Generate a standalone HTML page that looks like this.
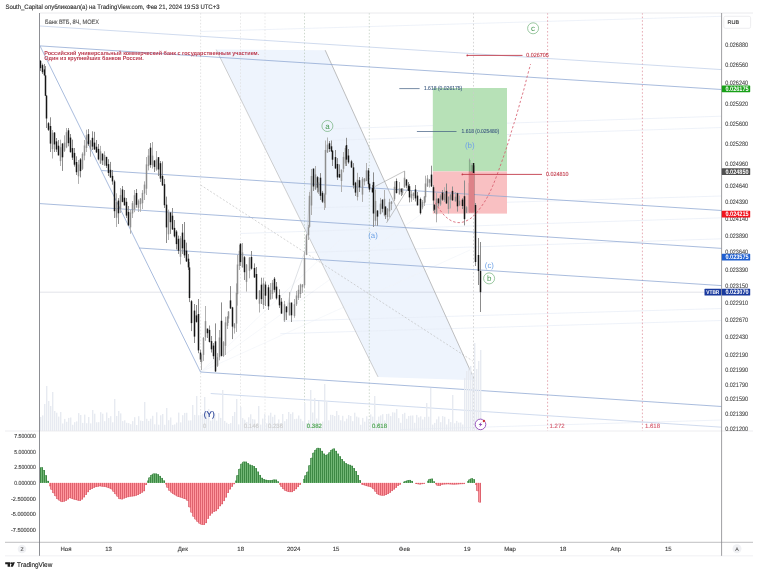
<!DOCTYPE html><html><head><meta charset="utf-8"><title>chart</title><style>html,body{margin:0;padding:0;background:#fff;overflow:hidden}svg{display:block;will-change:transform;filter:blur(0.3px)}</style></head><body><svg width="758" height="574" viewBox="0 0 758 574" text-rendering="geometricPrecision" style="display:block;font-family:'Liberation Sans',sans-serif">
<rect width="758" height="574" fill="#fff"/>
<defs><clipPath id="mp"><rect x="40" y="13" width="681.6" height="418"/></clipPath></defs>
<g clip-path="url(#mp)">
<polygon points="216.2,49.6 325.2,50.2 474.7,380.2 378,376.9" fill="#eef4fd"/>
<line x1="200.5" y1="372.0" x2="420.0" y2="215.0" stroke="#f0f3f9" stroke-width="0.6" />
<line x1="200.5" y1="372.0" x2="470.0" y2="250.0" stroke="#f0f3f9" stroke-width="0.6" />
<line x1="200.5" y1="372.0" x2="340.0" y2="240.0" stroke="#f0f3f9" stroke-width="0.6" />
<line x1="200.0" y1="31.5" x2="721.6" y2="16.3" stroke="#e6ecf7" stroke-width="0.7" />
<line x1="333.0" y1="128.8" x2="721.6" y2="116.2" stroke="#e6ecf7" stroke-width="0.7" />
<line x1="330.0" y1="140.4" x2="721.6" y2="127.5" stroke="#e6ecf7" stroke-width="0.7" />
<line x1="310.0" y1="208.0" x2="721.6" y2="196.0" stroke="#e6ecf7" stroke-width="0.7" />
<line x1="240.5" y1="233.5" x2="721.6" y2="217.8" stroke="#e6ecf7" stroke-width="0.7" />
<line x1="308.0" y1="252.4" x2="721.6" y2="238.8" stroke="#e6ecf7" stroke-width="0.7" />
<line x1="283.0" y1="321.2" x2="721.6" y2="308.5" stroke="#e6ecf7" stroke-width="0.7" />
<line x1="280.4" y1="333.7" x2="721.6" y2="320.5" stroke="#e6ecf7" stroke-width="0.7" />
<line x1="400.0" y1="429.6" x2="721.6" y2="420.0" stroke="#e6ecf7" stroke-width="0.7" />
<rect x="432.8" y="88" width="74.2" height="83.4" fill="#b7e1b7"/>
<rect x="432.8" y="171.4" width="74.2" height="42.2" fill="#f9c0c2"/>
<line x1="40.0" y1="292.2" x2="721.6" y2="292.2" stroke="#8c93a6" stroke-width="0.8" stroke-opacity="0.32"/>
<line x1="200.6" y1="13.0" x2="200.6" y2="431.0" stroke="#d8d8d8" stroke-width="0.7" stroke-dasharray="1.5 1.8"/>
<line x1="240.5" y1="13.0" x2="240.5" y2="431.0" stroke="#dedede" stroke-width="0.7" stroke-dasharray="1.5 1.8"/>
<line x1="265.0" y1="13.0" x2="265.0" y2="431.0" stroke="#dedede" stroke-width="0.7" stroke-dasharray="1.5 1.8"/>
<line x1="304.5" y1="13.0" x2="304.5" y2="431.0" stroke="#b9c9b9" stroke-width="0.7" stroke-dasharray="1.5 1.8"/>
<line x1="369.3" y1="13.0" x2="369.3" y2="431.0" stroke="#b9c9b9" stroke-width="0.7" stroke-dasharray="1.5 1.8"/>
<line x1="473.5" y1="13.0" x2="473.5" y2="431.0" stroke="#cbcbcb" stroke-width="0.8" stroke-dasharray="1.6 2"/>
<line x1="547.6" y1="13.0" x2="547.6" y2="431.0" stroke="#de8f9b" stroke-width="0.75" stroke-dasharray="1.6 2"/>
<line x1="642.4" y1="13.0" x2="642.4" y2="431.0" stroke="#de8f9b" stroke-width="0.75" stroke-dasharray="1.6 2"/>
<line x1="200.6" y1="185.0" x2="472.8" y2="361.0" stroke="#b8b8b8" stroke-width="0.6" stroke-dasharray="2 1.8"/>
<line x1="216.2" y1="49.6" x2="378.0" y2="376.9" stroke="#b0b0b0" stroke-width="0.6" />
<line x1="325.2" y1="50.2" x2="474.7" y2="380.2" stroke="#a4a4a4" stroke-width="0.7" />
<line x1="40.0" y1="26.0" x2="721.6" y2="69.6" stroke="#bccbe6" stroke-width="0.7" />
<line x1="40.0" y1="45.9" x2="721.6" y2="89.5" stroke="#8ca6d2" stroke-width="0.75" />
<line x1="40.0" y1="45.9" x2="200.5" y2="372.0" stroke="#8ca6d2" stroke-width="0.75" />
<line x1="101.5" y1="170.5" x2="721.6" y2="210.5" stroke="#8ca6d2" stroke-width="0.75" />
<line x1="40.0" y1="203.6" x2="721.6" y2="248.4" stroke="#8ca6d2" stroke-width="0.75" />
<line x1="139.0" y1="248.0" x2="721.6" y2="285.6" stroke="#8ca6d2" stroke-width="0.75" />
<line x1="200.5" y1="372.0" x2="721.6" y2="406.5" stroke="#8ca6d2" stroke-width="0.75" />
<line x1="210.7" y1="393.5" x2="721.6" y2="427.2" stroke="#bccbe6" stroke-width="0.7" />
<line x1="375.0" y1="186.5" x2="404.7" y2="171.0" stroke="#a0a0a0" stroke-width="0.6" />
<line x1="386.4" y1="223.0" x2="407.7" y2="189.0" stroke="#a0a0a0" stroke-width="0.6" />
<line x1="404.7" y1="171.0" x2="404.7" y2="186.0" stroke="#a0a0a0" stroke-width="0.6" />
<line x1="290.4" y1="292.7" x2="305.5" y2="250.0" stroke="#c8ccd4" stroke-width="0.6" />
<line x1="305.5" y1="250.0" x2="310.0" y2="190.0" stroke="#c8ccd4" stroke-width="0.6" />
<line x1="284.0" y1="321.0" x2="290.4" y2="292.7" stroke="#c8ccd4" stroke-width="0.6" />
<rect x="40" y="416.9" width="1.4" height="14.1" fill="#e7eaf1"/>
<rect x="42" y="415.4" width="1.4" height="15.6" fill="#e7eaf1"/>
<rect x="44" y="404.0" width="1.4" height="27.0" fill="#e7eaf1"/>
<rect x="46" y="386.0" width="1.4" height="45.0" fill="#e7eaf1"/>
<rect x="48" y="401.0" width="1.4" height="30.0" fill="#e7eaf1"/>
<rect x="50" y="406.0" width="1.4" height="25.0" fill="#e7eaf1"/>
<rect x="52" y="392.0" width="1.4" height="39.0" fill="#e7eaf1"/>
<rect x="54" y="411.0" width="1.4" height="20.0" fill="#e7eaf1"/>
<rect x="56" y="412.7" width="1.4" height="18.3" fill="#e7eaf1"/>
<rect x="58" y="416.6" width="1.4" height="14.4" fill="#e7eaf1"/>
<rect x="60" y="412.0" width="1.4" height="19.0" fill="#e7eaf1"/>
<rect x="62" y="423.5" width="1.4" height="7.5" fill="#e7eaf1"/>
<rect x="64" y="418.9" width="1.4" height="12.1" fill="#e7eaf1"/>
<rect x="66" y="421.8" width="1.4" height="9.2" fill="#e7eaf1"/>
<rect x="68" y="417.9" width="1.4" height="13.1" fill="#e7eaf1"/>
<rect x="70" y="417.5" width="1.4" height="13.5" fill="#e7eaf1"/>
<rect x="72" y="424.8" width="1.4" height="6.2" fill="#e7eaf1"/>
<rect x="74" y="422.2" width="1.4" height="8.8" fill="#e7eaf1"/>
<rect x="76" y="421.4" width="1.4" height="9.6" fill="#e7eaf1"/>
<rect x="78" y="413.1" width="1.4" height="17.9" fill="#e7eaf1"/>
<rect x="80" y="415.0" width="1.4" height="16.0" fill="#e7eaf1"/>
<rect x="82" y="422.9" width="1.4" height="8.1" fill="#e7eaf1"/>
<rect x="84" y="414.6" width="1.4" height="16.4" fill="#e7eaf1"/>
<rect x="86" y="423.2" width="1.4" height="7.8" fill="#e7eaf1"/>
<rect x="88" y="417.0" width="1.4" height="14.0" fill="#e7eaf1"/>
<rect x="90" y="423.4" width="1.4" height="7.6" fill="#e7eaf1"/>
<rect x="92" y="410.0" width="1.4" height="21.0" fill="#e7eaf1"/>
<rect x="94" y="413.7" width="1.4" height="17.3" fill="#e7eaf1"/>
<rect x="96" y="422.3" width="1.4" height="8.7" fill="#e7eaf1"/>
<rect x="98" y="422.2" width="1.4" height="8.8" fill="#e7eaf1"/>
<rect x="100" y="412.2" width="1.4" height="18.8" fill="#e7eaf1"/>
<rect x="102" y="413.7" width="1.4" height="17.3" fill="#e7eaf1"/>
<rect x="104" y="421.2" width="1.4" height="9.8" fill="#e7eaf1"/>
<rect x="106" y="412.5" width="1.4" height="18.5" fill="#e7eaf1"/>
<rect x="108" y="418.0" width="1.4" height="13.0" fill="#e7eaf1"/>
<rect x="110" y="416.2" width="1.4" height="14.8" fill="#e7eaf1"/>
<rect x="112" y="422.3" width="1.4" height="8.7" fill="#e7eaf1"/>
<rect x="114" y="399.0" width="1.4" height="32.0" fill="#e7eaf1"/>
<rect x="116" y="416.0" width="1.4" height="15.0" fill="#e7eaf1"/>
<rect x="118" y="411.0" width="1.4" height="20.0" fill="#e7eaf1"/>
<rect x="120" y="413.4" width="1.4" height="17.6" fill="#e7eaf1"/>
<rect x="122" y="421.1" width="1.4" height="9.9" fill="#e7eaf1"/>
<rect x="124" y="420.3" width="1.4" height="10.7" fill="#e7eaf1"/>
<rect x="126" y="422.8" width="1.4" height="8.2" fill="#e7eaf1"/>
<rect x="128" y="423.1" width="1.4" height="7.9" fill="#e7eaf1"/>
<rect x="130" y="424.2" width="1.4" height="6.8" fill="#e7eaf1"/>
<rect x="132" y="421.1" width="1.4" height="9.9" fill="#e7eaf1"/>
<rect x="134" y="417.2" width="1.4" height="13.8" fill="#e7eaf1"/>
<rect x="136" y="425.0" width="1.4" height="6.0" fill="#e7eaf1"/>
<rect x="138" y="416.2" width="1.4" height="14.8" fill="#e7eaf1"/>
<rect x="140" y="420.6" width="1.4" height="10.4" fill="#e7eaf1"/>
<rect x="142" y="421.0" width="1.4" height="10.0" fill="#e7eaf1"/>
<rect x="144" y="402.0" width="1.4" height="29.0" fill="#e7eaf1"/>
<rect x="146" y="418.8" width="1.4" height="12.2" fill="#e7eaf1"/>
<rect x="148" y="420.9" width="1.4" height="10.1" fill="#e7eaf1"/>
<rect x="150" y="418.7" width="1.4" height="12.3" fill="#e7eaf1"/>
<rect x="152" y="415.8" width="1.4" height="15.2" fill="#e7eaf1"/>
<rect x="154" y="424.3" width="1.4" height="6.7" fill="#e7eaf1"/>
<rect x="156" y="412.3" width="1.4" height="18.7" fill="#e7eaf1"/>
<rect x="158" y="424.7" width="1.4" height="6.3" fill="#e7eaf1"/>
<rect x="160" y="415.3" width="1.4" height="15.7" fill="#e7eaf1"/>
<rect x="162" y="414.0" width="1.4" height="17.0" fill="#e7eaf1"/>
<rect x="164" y="424.8" width="1.4" height="6.2" fill="#e7eaf1"/>
<rect x="166" y="408.0" width="1.4" height="23.0" fill="#e7eaf1"/>
<rect x="168" y="420.2" width="1.4" height="10.8" fill="#e7eaf1"/>
<rect x="170" y="417.5" width="1.4" height="13.5" fill="#e7eaf1"/>
<rect x="172" y="424.9" width="1.4" height="6.1" fill="#e7eaf1"/>
<rect x="174" y="424.4" width="1.4" height="6.6" fill="#e7eaf1"/>
<rect x="176" y="422.6" width="1.4" height="8.4" fill="#e7eaf1"/>
<rect x="178" y="412.6" width="1.4" height="18.4" fill="#e7eaf1"/>
<rect x="180" y="422.4" width="1.4" height="8.6" fill="#e7eaf1"/>
<rect x="182" y="415.2" width="1.4" height="15.8" fill="#e7eaf1"/>
<rect x="184" y="412.9" width="1.4" height="18.1" fill="#e7eaf1"/>
<rect x="186" y="412.8" width="1.4" height="18.2" fill="#e7eaf1"/>
<rect x="188" y="420.5" width="1.4" height="10.5" fill="#e7eaf1"/>
<rect x="190" y="420.4" width="1.4" height="10.6" fill="#e7eaf1"/>
<rect x="192" y="405.0" width="1.4" height="26.0" fill="#e7eaf1"/>
<rect x="194" y="414.9" width="1.4" height="16.1" fill="#e7eaf1"/>
<rect x="196" y="396.0" width="1.4" height="35.0" fill="#e7eaf1"/>
<rect x="198" y="415.3" width="1.4" height="15.7" fill="#e7eaf1"/>
<rect x="200" y="414.6" width="1.4" height="16.4" fill="#e7eaf1"/>
<rect x="202" y="413.8" width="1.4" height="17.2" fill="#e7eaf1"/>
<rect x="204" y="397.0" width="1.4" height="34.0" fill="#e7eaf1"/>
<rect x="206" y="412.7" width="1.4" height="18.3" fill="#e7eaf1"/>
<rect x="208" y="409.0" width="1.4" height="22.0" fill="#e7eaf1"/>
<rect x="210" y="420.6" width="1.4" height="10.4" fill="#e7eaf1"/>
<rect x="212" y="417.1" width="1.4" height="13.9" fill="#e7eaf1"/>
<rect x="214" y="413.1" width="1.4" height="17.9" fill="#e7eaf1"/>
<rect x="216" y="420.6" width="1.4" height="10.4" fill="#e7eaf1"/>
<rect x="218" y="413.0" width="1.4" height="18.0" fill="#e7eaf1"/>
<rect x="220" y="417.9" width="1.4" height="13.1" fill="#e7eaf1"/>
<rect x="222" y="390.0" width="1.4" height="41.0" fill="#e7eaf1"/>
<rect x="224" y="420.9" width="1.4" height="10.1" fill="#e7eaf1"/>
<rect x="226" y="422.7" width="1.4" height="8.3" fill="#e7eaf1"/>
<rect x="228" y="424.0" width="1.4" height="7.0" fill="#e7eaf1"/>
<rect x="230" y="423.1" width="1.4" height="7.9" fill="#e7eaf1"/>
<rect x="232" y="416.0" width="1.4" height="15.0" fill="#e7eaf1"/>
<rect x="234" y="412.0" width="1.4" height="19.0" fill="#e7eaf1"/>
<rect x="236" y="399.0" width="1.4" height="32.0" fill="#e7eaf1"/>
<rect x="238" y="424.4" width="1.4" height="6.6" fill="#e7eaf1"/>
<rect x="240" y="407.0" width="1.4" height="24.0" fill="#e7eaf1"/>
<rect x="242" y="418.1" width="1.4" height="12.9" fill="#e7eaf1"/>
<rect x="244" y="419.7" width="1.4" height="11.3" fill="#e7eaf1"/>
<rect x="246" y="421.9" width="1.4" height="9.1" fill="#e7eaf1"/>
<rect x="248" y="417.3" width="1.4" height="13.7" fill="#e7eaf1"/>
<rect x="250" y="414.3" width="1.4" height="16.7" fill="#e7eaf1"/>
<rect x="252" y="419.1" width="1.4" height="11.9" fill="#e7eaf1"/>
<rect x="254" y="419.5" width="1.4" height="11.5" fill="#e7eaf1"/>
<rect x="256" y="424.3" width="1.4" height="6.7" fill="#e7eaf1"/>
<rect x="258" y="406.0" width="1.4" height="25.0" fill="#e7eaf1"/>
<rect x="260" y="424.6" width="1.4" height="6.4" fill="#e7eaf1"/>
<rect x="262" y="418.6" width="1.4" height="12.4" fill="#e7eaf1"/>
<rect x="264" y="414.1" width="1.4" height="16.9" fill="#e7eaf1"/>
<rect x="266" y="423.3" width="1.4" height="7.7" fill="#e7eaf1"/>
<rect x="268" y="415.5" width="1.4" height="15.5" fill="#e7eaf1"/>
<rect x="270" y="412.7" width="1.4" height="18.3" fill="#e7eaf1"/>
<rect x="272" y="416.8" width="1.4" height="14.2" fill="#e7eaf1"/>
<rect x="274" y="414.8" width="1.4" height="16.2" fill="#e7eaf1"/>
<rect x="276" y="423.6" width="1.4" height="7.4" fill="#e7eaf1"/>
<rect x="278" y="419.4" width="1.4" height="11.6" fill="#e7eaf1"/>
<rect x="280" y="423.1" width="1.4" height="7.9" fill="#e7eaf1"/>
<rect x="282" y="414.0" width="1.4" height="17.0" fill="#e7eaf1"/>
<rect x="284" y="421.2" width="1.4" height="9.8" fill="#e7eaf1"/>
<rect x="286" y="419.1" width="1.4" height="11.9" fill="#e7eaf1"/>
<rect x="288" y="412.0" width="1.4" height="19.0" fill="#e7eaf1"/>
<rect x="290" y="413.9" width="1.4" height="17.1" fill="#e7eaf1"/>
<rect x="292" y="412.3" width="1.4" height="18.7" fill="#e7eaf1"/>
<rect x="294" y="419.1" width="1.4" height="11.9" fill="#e7eaf1"/>
<rect x="296" y="418.7" width="1.4" height="12.3" fill="#e7eaf1"/>
<rect x="298" y="415.5" width="1.4" height="15.5" fill="#e7eaf1"/>
<rect x="300" y="418.8" width="1.4" height="12.2" fill="#e7eaf1"/>
<rect x="302" y="421.2" width="1.4" height="9.8" fill="#e7eaf1"/>
<rect x="304" y="403.0" width="1.4" height="28.0" fill="#e7eaf1"/>
<rect x="306" y="423.1" width="1.4" height="7.9" fill="#e7eaf1"/>
<rect x="308" y="420.1" width="1.4" height="10.9" fill="#e7eaf1"/>
<rect x="310" y="390.0" width="1.4" height="41.0" fill="#e7eaf1"/>
<rect x="312" y="412.5" width="1.4" height="18.5" fill="#e7eaf1"/>
<rect x="314" y="398.0" width="1.4" height="33.0" fill="#e7eaf1"/>
<rect x="316" y="418.5" width="1.4" height="12.5" fill="#e7eaf1"/>
<rect x="318" y="401.0" width="1.4" height="30.0" fill="#e7eaf1"/>
<rect x="320" y="423.8" width="1.4" height="7.2" fill="#e7eaf1"/>
<rect x="322" y="421.5" width="1.4" height="9.5" fill="#e7eaf1"/>
<rect x="324" y="384.0" width="1.4" height="47.0" fill="#e7eaf1"/>
<rect x="326" y="401.0" width="1.4" height="30.0" fill="#e7eaf1"/>
<rect x="328" y="420.3" width="1.4" height="10.7" fill="#e7eaf1"/>
<rect x="330" y="414.8" width="1.4" height="16.2" fill="#e7eaf1"/>
<rect x="332" y="414.9" width="1.4" height="16.1" fill="#e7eaf1"/>
<rect x="334" y="416.0" width="1.4" height="15.0" fill="#e7eaf1"/>
<rect x="336" y="411.0" width="1.4" height="20.0" fill="#e7eaf1"/>
<rect x="338" y="415.1" width="1.4" height="15.9" fill="#e7eaf1"/>
<rect x="340" y="420.3" width="1.4" height="10.7" fill="#e7eaf1"/>
<rect x="342" y="415.8" width="1.4" height="15.2" fill="#e7eaf1"/>
<rect x="344" y="421.3" width="1.4" height="9.7" fill="#e7eaf1"/>
<rect x="346" y="418.7" width="1.4" height="12.3" fill="#e7eaf1"/>
<rect x="348" y="415.0" width="1.4" height="16.0" fill="#e7eaf1"/>
<rect x="350" y="416.0" width="1.4" height="15.0" fill="#e7eaf1"/>
<rect x="352" y="421.2" width="1.4" height="9.8" fill="#e7eaf1"/>
<rect x="354" y="412.7" width="1.4" height="18.3" fill="#e7eaf1"/>
<rect x="356" y="416.6" width="1.4" height="14.4" fill="#e7eaf1"/>
<rect x="358" y="417.5" width="1.4" height="13.5" fill="#e7eaf1"/>
<rect x="360" y="424.8" width="1.4" height="6.2" fill="#e7eaf1"/>
<rect x="362" y="417.9" width="1.4" height="13.1" fill="#e7eaf1"/>
<rect x="364" y="421.7" width="1.4" height="9.3" fill="#e7eaf1"/>
<rect x="366" y="416.3" width="1.4" height="14.7" fill="#e7eaf1"/>
<rect x="368" y="419.0" width="1.4" height="12.0" fill="#e7eaf1"/>
<rect x="370" y="414.4" width="1.4" height="16.6" fill="#e7eaf1"/>
<rect x="372" y="416.6" width="1.4" height="14.4" fill="#e7eaf1"/>
<rect x="374" y="396.0" width="1.4" height="35.0" fill="#e7eaf1"/>
<rect x="376" y="420.5" width="1.4" height="10.5" fill="#e7eaf1"/>
<rect x="378" y="416.6" width="1.4" height="14.4" fill="#e7eaf1"/>
<rect x="380" y="415.4" width="1.4" height="15.6" fill="#e7eaf1"/>
<rect x="382" y="414.2" width="1.4" height="16.8" fill="#e7eaf1"/>
<rect x="384" y="420.4" width="1.4" height="10.6" fill="#e7eaf1"/>
<rect x="386" y="414.0" width="1.4" height="17.0" fill="#e7eaf1"/>
<rect x="388" y="413.7" width="1.4" height="17.3" fill="#e7eaf1"/>
<rect x="390" y="416.1" width="1.4" height="14.9" fill="#e7eaf1"/>
<rect x="392" y="412.3" width="1.4" height="18.7" fill="#e7eaf1"/>
<rect x="394" y="412.6" width="1.4" height="18.4" fill="#e7eaf1"/>
<rect x="396" y="409.0" width="1.4" height="22.0" fill="#e7eaf1"/>
<rect x="398" y="418.1" width="1.4" height="12.9" fill="#e7eaf1"/>
<rect x="400" y="422.8" width="1.4" height="8.2" fill="#e7eaf1"/>
<rect x="402" y="414.1" width="1.4" height="16.9" fill="#e7eaf1"/>
<rect x="404" y="412.8" width="1.4" height="18.2" fill="#e7eaf1"/>
<rect x="406" y="418.8" width="1.4" height="12.2" fill="#e7eaf1"/>
<rect x="408" y="416.0" width="1.4" height="15.0" fill="#e7eaf1"/>
<rect x="410" y="415.6" width="1.4" height="15.4" fill="#e7eaf1"/>
<rect x="412" y="415.5" width="1.4" height="15.5" fill="#e7eaf1"/>
<rect x="414" y="422.8" width="1.4" height="8.2" fill="#e7eaf1"/>
<rect x="416" y="414.9" width="1.4" height="16.1" fill="#e7eaf1"/>
<rect x="418" y="417.4" width="1.4" height="13.6" fill="#e7eaf1"/>
<rect x="420" y="416.3" width="1.4" height="14.7" fill="#e7eaf1"/>
<rect x="422" y="419.5" width="1.4" height="11.5" fill="#e7eaf1"/>
<rect x="424" y="416.9" width="1.4" height="14.1" fill="#e7eaf1"/>
<rect x="426" y="403.0" width="1.4" height="28.0" fill="#e7eaf1"/>
<rect x="428" y="416.7" width="1.4" height="14.3" fill="#e7eaf1"/>
<rect x="430" y="388.0" width="1.4" height="43.0" fill="#e7eaf1"/>
<rect x="432" y="424.6" width="1.4" height="6.4" fill="#e7eaf1"/>
<rect x="434" y="422.9" width="1.4" height="8.1" fill="#e7eaf1"/>
<rect x="436" y="419.3" width="1.4" height="11.7" fill="#e7eaf1"/>
<rect x="438" y="416.5" width="1.4" height="14.5" fill="#e7eaf1"/>
<rect x="440" y="422.2" width="1.4" height="8.8" fill="#e7eaf1"/>
<rect x="442" y="416.1" width="1.4" height="14.9" fill="#e7eaf1"/>
<rect x="444" y="416.8" width="1.4" height="14.2" fill="#e7eaf1"/>
<rect x="446" y="424.5" width="1.4" height="6.5" fill="#e7eaf1"/>
<rect x="448" y="418.9" width="1.4" height="12.1" fill="#e7eaf1"/>
<rect x="450" y="422.1" width="1.4" height="8.9" fill="#e7eaf1"/>
<rect x="452" y="395.0" width="1.4" height="36.0" fill="#e7eaf1"/>
<rect x="454" y="423.3" width="1.4" height="7.7" fill="#e7eaf1"/>
<rect x="456" y="420.9" width="1.4" height="10.1" fill="#e7eaf1"/>
<rect x="458" y="422.6" width="1.4" height="8.4" fill="#e7eaf1"/>
<rect x="460" y="422.5" width="1.4" height="8.5" fill="#e7eaf1"/>
<rect x="462" y="424.5" width="1.4" height="6.5" fill="#e7eaf1"/>
<rect x="464" y="378.0" width="1.4" height="53.0" fill="#e7eaf1"/>
<rect x="466" y="371.0" width="1.4" height="60.0" fill="#e7eaf1"/>
<rect x="468" y="368.0" width="1.4" height="63.0" fill="#e7eaf1"/>
<rect x="470" y="366.0" width="1.4" height="65.0" fill="#e7eaf1"/>
<rect x="472" y="373.0" width="1.4" height="58.0" fill="#e7eaf1"/>
<rect x="474" y="343.0" width="1.4" height="88.0" fill="#e7eaf1"/>
<rect x="476" y="369.0" width="1.4" height="62.0" fill="#e7eaf1"/>
<rect x="478" y="361.0" width="1.4" height="70.0" fill="#e7eaf1"/>
<rect x="480" y="350.0" width="1.4" height="81.0" fill="#e7eaf1"/>
<rect x="40.0" y="60.0" width="1" height="11.0" fill="#8c8c8c"/>
<rect x="39.75" y="60.9" width="1.5" height="7.2" fill="#161616"/>
<rect x="42.0" y="63.6" width="1" height="10.4" fill="#8c8c8c"/>
<rect x="41.75" y="65.1" width="1.5" height="7.1" fill="#161616"/>
<rect x="44.0" y="64.0" width="1" height="11.7" fill="#8c8c8c"/>
<rect x="43.75" y="69.4" width="1.5" height="6.0" fill="#161616"/>
<rect x="45.0" y="66.0" width="1" height="29.8" fill="#8c8c8c"/>
<rect x="44.75" y="75.4" width="1.5" height="20.4" fill="#161616"/>
<rect x="46.0" y="95.0" width="1" height="33.0" fill="#8c8c8c"/>
<rect x="45.75" y="95.6" width="1.5" height="22.9" fill="#161616"/>
<rect x="48.0" y="122.0" width="1" height="9.0" fill="#8c8c8c"/>
<rect x="47.75" y="123.2" width="1.5" height="6.6" fill="#161616"/>
<rect x="50.0" y="117.3" width="1" height="34.7" fill="#8c8c8c"/>
<rect x="49.75" y="126.0" width="1.5" height="17.6" fill="#161616"/>
<rect x="52.0" y="130.0" width="1" height="28.5" fill="#b0b0b0"/>
<rect x="51.75" y="132.7" width="1.5" height="16.4" fill="#8e8e8e"/>
<rect x="54.0" y="132.0" width="1" height="20.0" fill="#8c8c8c"/>
<rect x="53.75" y="132.6" width="1.5" height="11.8" fill="#161616"/>
<rect x="56.0" y="138.0" width="1" height="14.0" fill="#8c8c8c"/>
<rect x="55.75" y="141.4" width="1.5" height="8.1" fill="#161616"/>
<rect x="58.0" y="140.0" width="1" height="15.4" fill="#8c8c8c"/>
<rect x="57.75" y="145.7" width="1.5" height="9.7" fill="#161616"/>
<rect x="60.0" y="139.7" width="1" height="26.3" fill="#b0b0b0"/>
<rect x="59.75" y="147.2" width="1.5" height="13.9" fill="#8e8e8e"/>
<rect x="62.0" y="143.0" width="1" height="27.9" fill="#8c8c8c"/>
<rect x="61.75" y="143.6" width="1.5" height="13.7" fill="#161616"/>
<rect x="64.0" y="135.3" width="1" height="16.7" fill="#b0b0b0"/>
<rect x="63.75" y="142.6" width="1.5" height="8.2" fill="#8e8e8e"/>
<rect x="66.0" y="128.0" width="1" height="20.2" fill="#b0b0b0"/>
<rect x="65.75" y="132.2" width="1.5" height="15.2" fill="#8e8e8e"/>
<rect x="68.0" y="128.0" width="1" height="18.3" fill="#8c8c8c"/>
<rect x="67.75" y="130.3" width="1.5" height="12.9" fill="#161616"/>
<rect x="70.0" y="134.0" width="1" height="18.6" fill="#8c8c8c"/>
<rect x="69.75" y="137.6" width="1.5" height="14.6" fill="#161616"/>
<rect x="72.0" y="139.6" width="1" height="20.4" fill="#8c8c8c"/>
<rect x="71.75" y="148.1" width="1.5" height="9.5" fill="#161616"/>
<rect x="74.0" y="148.0" width="1" height="18.6" fill="#8c8c8c"/>
<rect x="73.75" y="152.9" width="1.5" height="11.8" fill="#161616"/>
<rect x="76.0" y="156.3" width="1" height="18.7" fill="#8c8c8c"/>
<rect x="75.75" y="162.0" width="1.5" height="10.2" fill="#161616"/>
<rect x="78.0" y="160.0" width="1" height="23.9" fill="#b0b0b0"/>
<rect x="77.75" y="164.5" width="1.5" height="11.8" fill="#8e8e8e"/>
<rect x="80.0" y="158.0" width="1" height="19.4" fill="#8c8c8c"/>
<rect x="79.75" y="159.4" width="1.5" height="11.7" fill="#161616"/>
<rect x="82.0" y="152.3" width="1" height="17.7" fill="#b0b0b0"/>
<rect x="81.75" y="153.8" width="1.5" height="15.0" fill="#8e8e8e"/>
<rect x="84.0" y="140.0" width="1" height="20.3" fill="#b0b0b0"/>
<rect x="83.75" y="145.5" width="1.5" height="10.1" fill="#8e8e8e"/>
<rect x="86.0" y="129.7" width="1" height="22.3" fill="#b0b0b0"/>
<rect x="85.75" y="135.2" width="1.5" height="12.8" fill="#8e8e8e"/>
<rect x="88.0" y="129.1" width="1" height="16.9" fill="#8c8c8c"/>
<rect x="87.75" y="134.1" width="1.5" height="10.2" fill="#161616"/>
<rect x="90.0" y="140.0" width="1" height="16.7" fill="#b0b0b0"/>
<rect x="89.75" y="140.6" width="1.5" height="8.9" fill="#8e8e8e"/>
<rect x="92.0" y="131.3" width="1" height="18.7" fill="#8c8c8c"/>
<rect x="91.75" y="137.8" width="1.5" height="8.8" fill="#161616"/>
<rect x="94.0" y="131.8" width="1" height="18.2" fill="#8c8c8c"/>
<rect x="93.75" y="142.6" width="1.5" height="6.8" fill="#161616"/>
<rect x="96.0" y="140.0" width="1" height="13.0" fill="#8c8c8c"/>
<rect x="95.75" y="146.7" width="1.5" height="5.7" fill="#161616"/>
<rect x="98.0" y="144.0" width="1" height="16.3" fill="#8c8c8c"/>
<rect x="97.75" y="148.9" width="1.5" height="10.5" fill="#161616"/>
<rect x="100.0" y="145.9" width="1" height="18.1" fill="#b0b0b0"/>
<rect x="99.75" y="151.3" width="1.5" height="12.1" fill="#8e8e8e"/>
<rect x="102.0" y="153.6" width="1" height="11.4" fill="#8c8c8c"/>
<rect x="101.75" y="153.6" width="1.5" height="6.9" fill="#161616"/>
<rect x="104.0" y="151.3" width="1" height="14.7" fill="#b0b0b0"/>
<rect x="103.75" y="155.0" width="1.5" height="9.8" fill="#8e8e8e"/>
<rect x="106.0" y="156.8" width="1" height="11.2" fill="#8c8c8c"/>
<rect x="105.75" y="156.9" width="1.5" height="8.9" fill="#161616"/>
<rect x="108.0" y="159.2" width="1" height="16.8" fill="#8c8c8c"/>
<rect x="107.75" y="164.1" width="1.5" height="8.9" fill="#161616"/>
<rect x="110.0" y="161.9" width="1" height="16.1" fill="#8c8c8c"/>
<rect x="109.75" y="169.8" width="1.5" height="7.6" fill="#161616"/>
<rect x="112.0" y="170.0" width="1" height="14.7" fill="#8c8c8c"/>
<rect x="111.75" y="175.9" width="1.5" height="5.5" fill="#161616"/>
<rect x="114.0" y="179.8" width="1" height="38.2" fill="#8c8c8c"/>
<rect x="113.75" y="181.4" width="1.5" height="29.8" fill="#161616"/>
<rect x="116.0" y="193.3" width="1" height="33.7" fill="#b0b0b0"/>
<rect x="115.75" y="201.9" width="1.5" height="15.8" fill="#8e8e8e"/>
<rect x="118.0" y="198.1" width="1" height="25.9" fill="#8c8c8c"/>
<rect x="117.75" y="200.6" width="1.5" height="12.7" fill="#161616"/>
<rect x="120.0" y="188.0" width="1" height="25.0" fill="#b0b0b0"/>
<rect x="119.75" y="195.1" width="1.5" height="14.3" fill="#8e8e8e"/>
<rect x="122.0" y="186.0" width="1" height="16.3" fill="#8c8c8c"/>
<rect x="121.75" y="189.5" width="1.5" height="12.4" fill="#161616"/>
<rect x="124.0" y="190.0" width="1" height="15.4" fill="#8c8c8c"/>
<rect x="123.75" y="197.7" width="1.5" height="7.7" fill="#161616"/>
<rect x="126.0" y="198.0" width="1" height="20.0" fill="#8c8c8c"/>
<rect x="125.75" y="201.8" width="1.5" height="13.8" fill="#161616"/>
<rect x="128.0" y="206.0" width="1" height="19.4" fill="#8c8c8c"/>
<rect x="127.75" y="211.9" width="1.5" height="13.6" fill="#161616"/>
<rect x="130.0" y="210.0" width="1" height="23.7" fill="#b0b0b0"/>
<rect x="129.75" y="212.5" width="1.5" height="14.8" fill="#8e8e8e"/>
<rect x="132.0" y="201.0" width="1" height="17.0" fill="#b0b0b0"/>
<rect x="131.75" y="203.1" width="1.5" height="10.4" fill="#8e8e8e"/>
<rect x="134.0" y="190.0" width="1" height="22.2" fill="#b0b0b0"/>
<rect x="133.75" y="195.3" width="1.5" height="14.1" fill="#8e8e8e"/>
<rect x="136.0" y="189.0" width="1" height="18.7" fill="#8c8c8c"/>
<rect x="135.75" y="193.0" width="1.5" height="11.8" fill="#161616"/>
<rect x="138.0" y="199.4" width="1" height="12.6" fill="#b0b0b0"/>
<rect x="137.75" y="200.7" width="1.5" height="7.1" fill="#8e8e8e"/>
<rect x="140.0" y="198.0" width="1" height="13.8" fill="#b0b0b0"/>
<rect x="139.75" y="198.6" width="1.5" height="5.6" fill="#8e8e8e"/>
<rect x="142.0" y="190.1" width="1" height="18.9" fill="#b0b0b0"/>
<rect x="141.75" y="192.9" width="1.5" height="10.3" fill="#8e8e8e"/>
<rect x="144.0" y="181.3" width="1" height="18.7" fill="#b0b0b0"/>
<rect x="143.75" y="184.6" width="1.5" height="8.9" fill="#8e8e8e"/>
<rect x="146.0" y="157.0" width="1" height="38.0" fill="#b0b0b0"/>
<rect x="145.75" y="164.4" width="1.5" height="24.3" fill="#8e8e8e"/>
<rect x="148.0" y="149.0" width="1" height="21.4" fill="#b0b0b0"/>
<rect x="147.75" y="155.5" width="1.5" height="10.6" fill="#8e8e8e"/>
<rect x="150.0" y="143.0" width="1" height="24.7" fill="#8c8c8c"/>
<rect x="149.75" y="147.7" width="1.5" height="17.2" fill="#161616"/>
<rect x="152.0" y="142.0" width="1" height="26.5" fill="#b0b0b0"/>
<rect x="151.75" y="155.6" width="1.5" height="9.8" fill="#8e8e8e"/>
<rect x="154.0" y="160.0" width="1" height="12.0" fill="#8c8c8c"/>
<rect x="153.75" y="160.6" width="1.5" height="6.3" fill="#161616"/>
<rect x="156.0" y="151.0" width="1" height="19.8" fill="#b0b0b0"/>
<rect x="155.75" y="159.4" width="1.5" height="10.0" fill="#8e8e8e"/>
<rect x="158.0" y="157.2" width="1" height="18.8" fill="#8c8c8c"/>
<rect x="157.75" y="157.2" width="1.5" height="12.3" fill="#161616"/>
<rect x="160.0" y="161.0" width="1" height="21.0" fill="#8c8c8c"/>
<rect x="159.75" y="163.2" width="1.5" height="15.4" fill="#161616"/>
<rect x="162.0" y="161.4" width="1" height="24.6" fill="#8c8c8c"/>
<rect x="161.75" y="175.9" width="1.5" height="9.5" fill="#161616"/>
<rect x="164.0" y="178.9" width="1" height="29.1" fill="#8c8c8c"/>
<rect x="163.75" y="184.2" width="1.5" height="21.0" fill="#161616"/>
<rect x="166.0" y="196.6" width="1" height="46.4" fill="#8c8c8c"/>
<rect x="165.75" y="204.7" width="1.5" height="22.7" fill="#161616"/>
<rect x="168.0" y="209.6" width="1" height="30.4" fill="#b0b0b0"/>
<rect x="167.75" y="212.3" width="1.5" height="22.0" fill="#8e8e8e"/>
<rect x="170.0" y="212.0" width="1" height="21.9" fill="#8c8c8c"/>
<rect x="169.75" y="212.6" width="1.5" height="9.6" fill="#161616"/>
<rect x="172.0" y="208.0" width="1" height="22.0" fill="#8c8c8c"/>
<rect x="171.75" y="215.7" width="1.5" height="13.7" fill="#161616"/>
<rect x="174.0" y="220.0" width="1" height="17.5" fill="#8c8c8c"/>
<rect x="173.75" y="227.9" width="1.5" height="8.5" fill="#161616"/>
<rect x="176.0" y="230.0" width="1" height="19.5" fill="#8c8c8c"/>
<rect x="175.75" y="231.5" width="1.5" height="12.6" fill="#161616"/>
<rect x="178.0" y="235.6" width="1" height="18.4" fill="#8c8c8c"/>
<rect x="177.75" y="238.8" width="1.5" height="11.9" fill="#161616"/>
<rect x="180.0" y="236.0" width="1" height="28.4" fill="#b0b0b0"/>
<rect x="179.75" y="238.3" width="1.5" height="18.5" fill="#8e8e8e"/>
<rect x="182.0" y="224.0" width="1" height="30.0" fill="#8c8c8c"/>
<rect x="181.75" y="232.6" width="1.5" height="15.7" fill="#161616"/>
<rect x="184.0" y="222.0" width="1" height="35.9" fill="#8c8c8c"/>
<rect x="183.75" y="239.8" width="1.5" height="15.6" fill="#161616"/>
<rect x="186.0" y="242.6" width="1" height="19.4" fill="#8c8c8c"/>
<rect x="185.75" y="250.6" width="1.5" height="10.8" fill="#161616"/>
<rect x="188.0" y="254.0" width="1" height="16.0" fill="#8c8c8c"/>
<rect x="187.75" y="258.7" width="1.5" height="8.7" fill="#161616"/>
<rect x="189.0" y="262.0" width="1" height="40.1" fill="#8c8c8c"/>
<rect x="188.75" y="267.4" width="1.5" height="30.6" fill="#161616"/>
<rect x="191.0" y="300.0" width="1" height="31.1" fill="#8c8c8c"/>
<rect x="190.75" y="301.2" width="1.5" height="21.9" fill="#161616"/>
<rect x="194.0" y="304.0" width="1" height="39.0" fill="#8c8c8c"/>
<rect x="193.75" y="310.6" width="1.5" height="26.0" fill="#161616"/>
<rect x="196.0" y="305.0" width="1" height="17.7" fill="#8c8c8c"/>
<rect x="195.75" y="315.4" width="1.5" height="6.5" fill="#161616"/>
<rect x="198.0" y="299.0" width="1" height="54.2" fill="#8c8c8c"/>
<rect x="197.75" y="314.0" width="1.5" height="36.4" fill="#161616"/>
<rect x="200.0" y="349.6" width="1" height="12.4" fill="#8c8c8c"/>
<rect x="199.75" y="352.6" width="1.5" height="6.9" fill="#161616"/>
<rect x="201.0" y="354.0" width="1" height="16.0" fill="#b0b0b0"/>
<rect x="200.75" y="354.6" width="1.5" height="7.6" fill="#8e8e8e"/>
<rect x="203.0" y="337.0" width="1" height="23.9" fill="#b0b0b0"/>
<rect x="202.75" y="337.9" width="1.5" height="17.0" fill="#8e8e8e"/>
<rect x="205.0" y="306.0" width="1" height="34.8" fill="#b0b0b0"/>
<rect x="204.75" y="321.1" width="1.5" height="16.3" fill="#8e8e8e"/>
<rect x="207.0" y="328.6" width="1" height="9.4" fill="#8c8c8c"/>
<rect x="206.75" y="328.6" width="1.5" height="4.6" fill="#161616"/>
<rect x="209.0" y="325.5" width="1" height="17.0" fill="#8c8c8c"/>
<rect x="208.75" y="329.9" width="1.5" height="12.0" fill="#161616"/>
<rect x="211.0" y="336.0" width="1" height="16.5" fill="#8c8c8c"/>
<rect x="210.75" y="341.1" width="1.5" height="8.2" fill="#161616"/>
<rect x="213.0" y="343.0" width="1" height="16.1" fill="#8c8c8c"/>
<rect x="212.75" y="345.6" width="1.5" height="10.6" fill="#161616"/>
<rect x="215.0" y="323.4" width="1" height="48.6" fill="#8c8c8c"/>
<rect x="214.75" y="341.3" width="1.5" height="30.1" fill="#161616"/>
<rect x="217.0" y="353.1" width="1" height="13.9" fill="#b0b0b0"/>
<rect x="216.75" y="357.2" width="1.5" height="8.6" fill="#8e8e8e"/>
<rect x="219.0" y="330.0" width="1" height="30.3" fill="#b0b0b0"/>
<rect x="218.75" y="337.5" width="1.5" height="19.7" fill="#8e8e8e"/>
<rect x="221.0" y="302.4" width="1" height="54.1" fill="#8c8c8c"/>
<rect x="220.75" y="320.8" width="1.5" height="35.1" fill="#161616"/>
<rect x="223.0" y="341.0" width="1" height="16.0" fill="#b0b0b0"/>
<rect x="222.75" y="342.2" width="1.5" height="13.6" fill="#8e8e8e"/>
<rect x="225.0" y="316.7" width="1" height="38.3" fill="#b0b0b0"/>
<rect x="224.75" y="322.4" width="1.5" height="23.4" fill="#8e8e8e"/>
<rect x="227.0" y="316.0" width="1" height="13.0" fill="#b0b0b0"/>
<rect x="226.75" y="316.9" width="1.5" height="9.0" fill="#8e8e8e"/>
<rect x="228.0" y="311.0" width="1" height="12.0" fill="#b0b0b0"/>
<rect x="227.75" y="311.6" width="1.5" height="7.0" fill="#8e8e8e"/>
<rect x="230.0" y="286.1" width="1" height="22.9" fill="#8c8c8c"/>
<rect x="229.75" y="300.4" width="1.5" height="8.0" fill="#161616"/>
<rect x="232.0" y="306.8" width="1" height="32.3" fill="#8c8c8c"/>
<rect x="231.75" y="307.4" width="1.5" height="19.2" fill="#161616"/>
<rect x="234.0" y="323.0" width="1" height="10.6" fill="#b0b0b0"/>
<rect x="233.75" y="323.6" width="1.5" height="4.7" fill="#8e8e8e"/>
<rect x="236.0" y="283.4" width="1" height="48.6" fill="#b0b0b0"/>
<rect x="235.75" y="292.7" width="1.5" height="30.9" fill="#8e8e8e"/>
<rect x="237.0" y="255.0" width="1" height="50.6" fill="#b0b0b0"/>
<rect x="236.75" y="264.5" width="1.5" height="29.7" fill="#8e8e8e"/>
<rect x="239.0" y="244.9" width="1" height="25.1" fill="#b0b0b0"/>
<rect x="238.75" y="250.8" width="1.5" height="15.0" fill="#8e8e8e"/>
<rect x="240.0" y="243.6" width="1" height="22.4" fill="#8c8c8c"/>
<rect x="239.75" y="243.6" width="1.5" height="18.5" fill="#161616"/>
<rect x="242.0" y="243.0" width="1" height="24.4" fill="#b0b0b0"/>
<rect x="241.75" y="252.4" width="1.5" height="15.0" fill="#8e8e8e"/>
<rect x="244.0" y="256.0" width="1" height="24.0" fill="#8c8c8c"/>
<rect x="243.75" y="257.2" width="1.5" height="15.0" fill="#161616"/>
<rect x="246.0" y="264.0" width="1" height="27.6" fill="#b0b0b0"/>
<rect x="245.75" y="264.6" width="1.5" height="17.3" fill="#8e8e8e"/>
<rect x="249.0" y="257.0" width="1" height="21.3" fill="#b0b0b0"/>
<rect x="248.75" y="257.6" width="1.5" height="13.1" fill="#8e8e8e"/>
<rect x="251.0" y="251.0" width="1" height="18.6" fill="#8c8c8c"/>
<rect x="250.75" y="257.0" width="1.5" height="11.7" fill="#161616"/>
<rect x="254.0" y="263.4" width="1" height="14.6" fill="#8c8c8c"/>
<rect x="253.75" y="267.9" width="1.5" height="9.5" fill="#161616"/>
<rect x="256.0" y="267.0" width="1" height="33.0" fill="#8c8c8c"/>
<rect x="255.75" y="274.0" width="1.5" height="24.9" fill="#161616"/>
<rect x="259.0" y="290.0" width="1" height="22.5" fill="#b0b0b0"/>
<rect x="258.75" y="290.6" width="1.5" height="13.1" fill="#8e8e8e"/>
<rect x="261.0" y="277.7" width="1" height="26.3" fill="#8c8c8c"/>
<rect x="260.75" y="284.7" width="1.5" height="14.4" fill="#161616"/>
<rect x="263.0" y="277.7" width="1" height="31.3" fill="#b0b0b0"/>
<rect x="262.75" y="283.4" width="1.5" height="21.6" fill="#8e8e8e"/>
<rect x="265.0" y="281.5" width="1" height="24.5" fill="#8c8c8c"/>
<rect x="264.75" y="284.6" width="1.5" height="11.1" fill="#161616"/>
<rect x="268.0" y="284.8" width="1" height="25.2" fill="#8c8c8c"/>
<rect x="267.75" y="287.3" width="1.5" height="19.0" fill="#161616"/>
<rect x="270.0" y="283.0" width="1" height="16.4" fill="#b0b0b0"/>
<rect x="269.75" y="290.1" width="1.5" height="9.3" fill="#8e8e8e"/>
<rect x="272.0" y="280.0" width="1" height="18.8" fill="#b0b0b0"/>
<rect x="271.75" y="282.8" width="1.5" height="11.0" fill="#8e8e8e"/>
<rect x="274.0" y="277.0" width="1" height="15.5" fill="#8c8c8c"/>
<rect x="273.75" y="278.7" width="1.5" height="11.1" fill="#161616"/>
<rect x="276.0" y="282.0" width="1" height="17.6" fill="#8c8c8c"/>
<rect x="275.75" y="286.6" width="1.5" height="11.8" fill="#161616"/>
<rect x="279.0" y="289.3" width="1" height="18.7" fill="#8c8c8c"/>
<rect x="278.75" y="295.0" width="1.5" height="10.3" fill="#161616"/>
<rect x="281.0" y="298.0" width="1" height="15.6" fill="#8c8c8c"/>
<rect x="280.75" y="301.7" width="1.5" height="11.9" fill="#161616"/>
<rect x="284.0" y="300.9" width="1" height="21.1" fill="#b0b0b0"/>
<rect x="283.75" y="304.3" width="1.5" height="16.0" fill="#8e8e8e"/>
<rect x="286.0" y="306.0" width="1" height="14.0" fill="#8c8c8c"/>
<rect x="285.75" y="306.6" width="1.5" height="5.7" fill="#161616"/>
<rect x="289.0" y="292.0" width="1" height="23.4" fill="#b0b0b0"/>
<rect x="288.75" y="302.6" width="1.5" height="12.8" fill="#8e8e8e"/>
<rect x="291.0" y="302.6" width="1" height="19.4" fill="#8c8c8c"/>
<rect x="290.75" y="302.6" width="1.5" height="12.7" fill="#161616"/>
<rect x="294.0" y="299.0" width="1" height="18.8" fill="#b0b0b0"/>
<rect x="293.75" y="304.2" width="1.5" height="11.7" fill="#8e8e8e"/>
<rect x="296.0" y="290.9" width="1" height="15.1" fill="#b0b0b0"/>
<rect x="295.75" y="295.5" width="1.5" height="8.8" fill="#8e8e8e"/>
<rect x="298.0" y="285.2" width="1" height="14.8" fill="#b0b0b0"/>
<rect x="297.75" y="289.8" width="1.5" height="8.1" fill="#8e8e8e"/>
<rect x="300.0" y="283.7" width="1" height="14.3" fill="#b0b0b0"/>
<rect x="299.75" y="284.5" width="1.5" height="9.5" fill="#8e8e8e"/>
<rect x="302.0" y="284.0" width="1" height="9.0" fill="#b0b0b0"/>
<rect x="301.75" y="284.6" width="1.5" height="2.7" fill="#8e8e8e"/>
<rect x="304.0" y="252.0" width="1" height="36.1" fill="#b0b0b0"/>
<rect x="303.75" y="258.0" width="1.5" height="27.2" fill="#8e8e8e"/>
<rect x="306.0" y="234.0" width="1" height="21.2" fill="#b0b0b0"/>
<rect x="305.75" y="235.3" width="1.5" height="19.5" fill="#8e8e8e"/>
<rect x="308.0" y="224.9" width="1" height="15.1" fill="#b0b0b0"/>
<rect x="307.75" y="227.2" width="1.5" height="8.1" fill="#8e8e8e"/>
<rect x="309.0" y="192.0" width="1" height="36.0" fill="#b0b0b0"/>
<rect x="308.75" y="195.8" width="1.5" height="31.0" fill="#8e8e8e"/>
<rect x="311.0" y="169.0" width="1" height="46.0" fill="#b0b0b0"/>
<rect x="310.75" y="176.0" width="1.5" height="29.5" fill="#8e8e8e"/>
<rect x="313.0" y="168.6" width="1" height="22.4" fill="#8c8c8c"/>
<rect x="312.75" y="168.6" width="1.5" height="17.9" fill="#161616"/>
<rect x="315.0" y="166.0" width="1" height="23.9" fill="#b0b0b0"/>
<rect x="314.75" y="174.4" width="1.5" height="15.0" fill="#8e8e8e"/>
<rect x="317.0" y="176.0" width="1" height="16.5" fill="#8c8c8c"/>
<rect x="316.75" y="177.2" width="1.5" height="10.5" fill="#161616"/>
<rect x="318.0" y="177.2" width="1" height="16.8" fill="#b0b0b0"/>
<rect x="317.75" y="182.4" width="1.5" height="9.4" fill="#8e8e8e"/>
<rect x="320.0" y="173.1" width="1" height="26.9" fill="#8c8c8c"/>
<rect x="319.75" y="177.7" width="1.5" height="18.1" fill="#161616"/>
<rect x="322.0" y="190.9" width="1" height="12.1" fill="#8c8c8c"/>
<rect x="321.75" y="192.8" width="1.5" height="8.9" fill="#161616"/>
<rect x="324.0" y="193.3" width="1" height="16.7" fill="#b0b0b0"/>
<rect x="323.75" y="194.6" width="1.5" height="8.5" fill="#8e8e8e"/>
<rect x="325.0" y="140.5" width="1" height="67.3" fill="#b0b0b0"/>
<rect x="324.75" y="150.0" width="1.5" height="44.6" fill="#8e8e8e"/>
<rect x="327.0" y="137.5" width="1" height="15.5" fill="#b0b0b0"/>
<rect x="326.75" y="144.6" width="1.5" height="7.8" fill="#8e8e8e"/>
<rect x="329.0" y="141.0" width="1" height="11.0" fill="#8c8c8c"/>
<rect x="328.75" y="143.3" width="1.5" height="5.7" fill="#161616"/>
<rect x="331.0" y="140.5" width="1" height="11.5" fill="#8c8c8c"/>
<rect x="330.75" y="146.3" width="1.5" height="5.1" fill="#161616"/>
<rect x="332.0" y="150.0" width="1" height="16.0" fill="#8c8c8c"/>
<rect x="331.75" y="150.6" width="1.5" height="9.1" fill="#161616"/>
<rect x="335.0" y="150.0" width="1" height="19.0" fill="#8c8c8c"/>
<rect x="334.75" y="157.1" width="1.5" height="11.3" fill="#161616"/>
<rect x="337.0" y="158.1" width="1" height="21.9" fill="#8c8c8c"/>
<rect x="336.75" y="164.0" width="1.5" height="13.4" fill="#161616"/>
<rect x="339.0" y="164.4" width="1" height="13.6" fill="#8c8c8c"/>
<rect x="338.75" y="174.1" width="1.5" height="3.3" fill="#161616"/>
<rect x="341.0" y="169.6" width="1" height="22.4" fill="#b0b0b0"/>
<rect x="340.75" y="169.6" width="1.5" height="11.4" fill="#8e8e8e"/>
<rect x="343.0" y="152.0" width="1" height="20.3" fill="#b0b0b0"/>
<rect x="342.75" y="156.9" width="1.5" height="11.9" fill="#8e8e8e"/>
<rect x="345.0" y="146.0" width="1" height="20.0" fill="#b0b0b0"/>
<rect x="344.75" y="148.0" width="1.5" height="15.6" fill="#8e8e8e"/>
<rect x="346.0" y="137.8" width="1" height="28.2" fill="#8c8c8c"/>
<rect x="345.75" y="145.1" width="1.5" height="14.5" fill="#161616"/>
<rect x="348.0" y="149.0" width="1" height="14.8" fill="#8c8c8c"/>
<rect x="347.75" y="155.5" width="1.5" height="6.9" fill="#161616"/>
<rect x="351.0" y="159.9" width="1" height="8.1" fill="#8c8c8c"/>
<rect x="350.75" y="161.3" width="1.5" height="6.1" fill="#161616"/>
<rect x="353.0" y="163.1" width="1" height="25.4" fill="#8c8c8c"/>
<rect x="352.75" y="167.4" width="1.5" height="18.0" fill="#161616"/>
<rect x="355.0" y="181.8" width="1" height="14.2" fill="#8c8c8c"/>
<rect x="354.75" y="182.6" width="1.5" height="10.0" fill="#161616"/>
<rect x="357.0" y="172.8" width="1" height="27.7" fill="#b0b0b0"/>
<rect x="356.75" y="179.7" width="1.5" height="17.3" fill="#8e8e8e"/>
<rect x="359.0" y="177.0" width="1" height="15.0" fill="#8c8c8c"/>
<rect x="358.75" y="180.2" width="1.5" height="7.2" fill="#161616"/>
<rect x="362.0" y="177.0" width="1" height="24.9" fill="#b0b0b0"/>
<rect x="361.75" y="178.7" width="1.5" height="15.9" fill="#8e8e8e"/>
<rect x="364.0" y="178.0" width="1" height="7.5" fill="#b0b0b0"/>
<rect x="363.75" y="178.6" width="1.5" height="3.0" fill="#8e8e8e"/>
<rect x="366.0" y="163.0" width="1" height="18.1" fill="#b0b0b0"/>
<rect x="365.75" y="170.4" width="1.5" height="10.7" fill="#8e8e8e"/>
<rect x="368.0" y="168.0" width="1" height="19.8" fill="#8c8c8c"/>
<rect x="367.75" y="170.4" width="1.5" height="13.8" fill="#161616"/>
<rect x="369.0" y="183.6" width="1" height="8.4" fill="#8c8c8c"/>
<rect x="368.75" y="183.6" width="1.5" height="6.0" fill="#161616"/>
<rect x="372.0" y="185.0" width="1" height="7.4" fill="#8c8c8c"/>
<rect x="371.75" y="188.1" width="1.5" height="4.3" fill="#161616"/>
<rect x="373.0" y="172.4" width="1" height="54.6" fill="#8c8c8c"/>
<rect x="372.75" y="182.1" width="1.5" height="31.4" fill="#161616"/>
<rect x="375.0" y="189.5" width="1" height="36.5" fill="#b0b0b0"/>
<rect x="374.75" y="200.9" width="1.5" height="19.9" fill="#8e8e8e"/>
<rect x="377.0" y="210.0" width="1" height="15.8" fill="#8c8c8c"/>
<rect x="376.75" y="210.6" width="1.5" height="6.0" fill="#161616"/>
<rect x="380.0" y="197.9" width="1" height="16.6" fill="#b0b0b0"/>
<rect x="379.75" y="203.6" width="1.5" height="10.3" fill="#8e8e8e"/>
<rect x="382.0" y="199.0" width="1" height="13.4" fill="#8c8c8c"/>
<rect x="381.75" y="199.8" width="1.5" height="9.0" fill="#161616"/>
<rect x="384.0" y="190.0" width="1" height="26.4" fill="#b0b0b0"/>
<rect x="383.75" y="198.8" width="1.5" height="16.6" fill="#8e8e8e"/>
<rect x="385.0" y="206.0" width="1" height="13.0" fill="#8c8c8c"/>
<rect x="384.75" y="206.6" width="1.5" height="8.2" fill="#161616"/>
<rect x="387.0" y="208.0" width="1" height="13.4" fill="#b0b0b0"/>
<rect x="386.75" y="208.8" width="1.5" height="8.3" fill="#8e8e8e"/>
<rect x="389.0" y="198.8" width="1" height="18.5" fill="#b0b0b0"/>
<rect x="388.75" y="202.2" width="1.5" height="9.2" fill="#8e8e8e"/>
<rect x="391.0" y="201.0" width="1" height="9.1" fill="#b0b0b0"/>
<rect x="390.75" y="201.6" width="1.5" height="2.3" fill="#8e8e8e"/>
<rect x="394.0" y="181.4" width="1" height="19.7" fill="#b0b0b0"/>
<rect x="393.75" y="186.8" width="1.5" height="12.5" fill="#8e8e8e"/>
<rect x="396.0" y="178.5" width="1" height="15.1" fill="#8c8c8c"/>
<rect x="395.75" y="181.0" width="1.5" height="12.0" fill="#161616"/>
<rect x="399.0" y="182.0" width="1" height="12.4" fill="#b0b0b0"/>
<rect x="398.75" y="188.3" width="1.5" height="6.1" fill="#8e8e8e"/>
<rect x="401.0" y="188.6" width="1" height="7.4" fill="#8c8c8c"/>
<rect x="400.75" y="188.6" width="1.5" height="3.6" fill="#161616"/>
<rect x="402.0" y="188.5" width="1" height="6.5" fill="#b0b0b0"/>
<rect x="401.75" y="188.5" width="1.5" height="4.8" fill="#8e8e8e"/>
<rect x="404.0" y="171.0" width="1" height="16.7" fill="#b0b0b0"/>
<rect x="403.75" y="177.7" width="1.5" height="9.7" fill="#8e8e8e"/>
<rect x="406.0" y="179.0" width="1" height="9.2" fill="#8c8c8c"/>
<rect x="405.75" y="179.6" width="1.5" height="6.0" fill="#161616"/>
<rect x="408.0" y="182.0" width="1" height="8.9" fill="#8c8c8c"/>
<rect x="407.75" y="185.5" width="1.5" height="5.4" fill="#161616"/>
<rect x="409.0" y="184.0" width="1" height="18.4" fill="#8c8c8c"/>
<rect x="408.75" y="186.2" width="1.5" height="11.2" fill="#161616"/>
<rect x="411.0" y="190.0" width="1" height="11.9" fill="#b0b0b0"/>
<rect x="410.75" y="194.0" width="1.5" height="4.4" fill="#8e8e8e"/>
<rect x="413.0" y="192.6" width="1" height="7.4" fill="#b0b0b0"/>
<rect x="412.75" y="192.6" width="1.5" height="3.4" fill="#8e8e8e"/>
<rect x="415.0" y="185.0" width="1" height="16.5" fill="#8c8c8c"/>
<rect x="414.75" y="189.4" width="1.5" height="9.0" fill="#161616"/>
<rect x="417.0" y="192.0" width="1" height="13.4" fill="#8c8c8c"/>
<rect x="416.75" y="195.6" width="1.5" height="9.8" fill="#161616"/>
<rect x="420.0" y="197.6" width="1" height="16.9" fill="#8c8c8c"/>
<rect x="419.75" y="199.0" width="1.5" height="14.2" fill="#161616"/>
<rect x="422.0" y="200.0" width="1" height="9.3" fill="#b0b0b0"/>
<rect x="421.75" y="201.9" width="1.5" height="5.5" fill="#8e8e8e"/>
<rect x="424.0" y="196.0" width="1" height="10.0" fill="#b0b0b0"/>
<rect x="423.75" y="196.6" width="1.5" height="6.5" fill="#8e8e8e"/>
<rect x="425.0" y="175.7" width="1" height="26.6" fill="#b0b0b0"/>
<rect x="424.75" y="183.5" width="1.5" height="13.8" fill="#8e8e8e"/>
<rect x="427.0" y="175.1" width="1" height="11.9" fill="#b0b0b0"/>
<rect x="426.75" y="178.5" width="1.5" height="7.9" fill="#8e8e8e"/>
<rect x="429.0" y="179.0" width="1" height="8.5" fill="#b0b0b0"/>
<rect x="428.75" y="179.6" width="1.5" height="3.1" fill="#8e8e8e"/>
<rect x="431.0" y="165.7" width="1" height="21.3" fill="#8c8c8c"/>
<rect x="430.75" y="174.6" width="1.5" height="11.8" fill="#161616"/>
<rect x="433.0" y="185.3" width="1" height="25.7" fill="#8c8c8c"/>
<rect x="432.75" y="187.2" width="1.5" height="13.3" fill="#161616"/>
<rect x="434.0" y="204.6" width="1" height="8.4" fill="#8c8c8c"/>
<rect x="433.75" y="204.6" width="1.5" height="5.1" fill="#161616"/>
<rect x="436.0" y="193.0" width="1" height="29.3" fill="#b0b0b0"/>
<rect x="435.75" y="198.6" width="1.5" height="15.6" fill="#8e8e8e"/>
<rect x="438.0" y="198.0" width="1" height="8.6" fill="#8c8c8c"/>
<rect x="437.75" y="198.6" width="1.5" height="4.7" fill="#161616"/>
<rect x="440.0" y="194.0" width="1" height="12.0" fill="#b0b0b0"/>
<rect x="439.75" y="195.5" width="1.5" height="9.0" fill="#8e8e8e"/>
<rect x="442.0" y="190.0" width="1" height="11.0" fill="#8c8c8c"/>
<rect x="441.75" y="192.5" width="1.5" height="7.2" fill="#161616"/>
<rect x="444.0" y="187.2" width="1" height="14.8" fill="#b0b0b0"/>
<rect x="443.75" y="193.6" width="1.5" height="6.7" fill="#8e8e8e"/>
<rect x="446.0" y="183.5" width="1" height="20.5" fill="#8c8c8c"/>
<rect x="445.75" y="190.9" width="1.5" height="12.5" fill="#161616"/>
<rect x="448.0" y="196.6" width="1" height="17.0" fill="#b0b0b0"/>
<rect x="447.75" y="196.6" width="1.5" height="12.4" fill="#8e8e8e"/>
<rect x="450.0" y="194.0" width="1" height="14.4" fill="#b0b0b0"/>
<rect x="449.75" y="194.6" width="1.5" height="5.1" fill="#8e8e8e"/>
<rect x="452.0" y="186.5" width="1" height="14.5" fill="#8c8c8c"/>
<rect x="451.75" y="190.9" width="1.5" height="9.4" fill="#161616"/>
<rect x="455.0" y="192.0" width="1" height="9.4" fill="#b0b0b0"/>
<rect x="454.75" y="196.7" width="1.5" height="4.7" fill="#8e8e8e"/>
<rect x="457.0" y="192.7" width="1" height="18.9" fill="#8c8c8c"/>
<rect x="456.75" y="193.3" width="1.5" height="13.0" fill="#161616"/>
<rect x="459.0" y="195.5" width="1" height="10.5" fill="#b0b0b0"/>
<rect x="458.75" y="200.7" width="1.5" height="4.7" fill="#8e8e8e"/>
<rect x="462.0" y="198.2" width="1" height="10.8" fill="#8c8c8c"/>
<rect x="461.75" y="199.6" width="1.5" height="6.4" fill="#161616"/>
<rect x="464.0" y="180.5" width="1" height="44.9" fill="#8c8c8c"/>
<rect x="463.75" y="196.2" width="1.5" height="22.9" fill="#161616"/>
<rect x="466.0" y="206.0" width="1" height="7.1" fill="#b0b0b0"/>
<rect x="465.75" y="207.2" width="1.5" height="5.6" fill="#8e8e8e"/>
<rect x="469.0" y="158.7" width="1" height="54.0" fill="#b0b0b0"/>
<rect x="468.75" y="183.0" width="1.5" height="29.1" fill="#8e8e8e"/>
<rect x="471.0" y="163.2" width="1" height="49.5" fill="#b0b0b0"/>
<rect x="470.75" y="165.4" width="1.5" height="34.5" fill="#8e8e8e"/>
<rect x="473.0" y="163.0" width="1" height="49.1" fill="#8c8c8c"/>
<rect x="472.75" y="165.4" width="1.5" height="46.4" fill="#161616"/>
<rect x="475.0" y="203.0" width="1" height="63.0" fill="#8c8c8c"/>
<rect x="474.75" y="205.0" width="1.5" height="57.0" fill="#161616"/>
<rect x="478.0" y="238.0" width="1" height="47.0" fill="#8c8c8c"/>
<rect x="477.75" y="255.0" width="1.5" height="16.0" fill="#161616"/>
<rect x="480.0" y="242.0" width="1" height="70.0" fill="#8c8c8c"/>
<rect x="479.75" y="271.0" width="1.5" height="21.2" fill="#161616"/>
<rect x="468.7" y="171.4" width="5.6" height="41.3" fill="#dd8188"/>
<rect x="468.9" y="160" width="1.5" height="11.4" fill="#86b08a"/><rect x="471" y="165" width="1.5" height="6.4" fill="#86b08a"/>
<rect x="469.4" y="158.7" width="0.6" height="3" fill="#9a9a9a"/>
<rect x="472.8" y="163" width="1.5" height="10" fill="#161616"/>
<path d="M435.3,202.8 C436.1,204.0 438.2,207.6 440.0,210.0 C441.8,212.4 443.8,215.1 446.0,217.0 C448.2,218.9 450.6,220.6 453.0,221.5 C455.4,222.4 457.9,222.8 460.4,222.6 C462.9,222.3 465.5,221.4 468.0,220.0 C470.5,218.6 472.6,217.3 475.5,214.0 C478.4,210.7 482.6,205.1 485.5,200.3 C488.4,195.5 490.5,191.1 493.0,185.2 C495.5,179.3 498.3,171.4 500.6,165.0 C502.9,158.6 504.9,152.8 506.8,147.0 C508.7,141.2 510.4,135.0 511.9,130.0 C513.4,125.0 514.6,121.8 516.0,117.0 C517.4,112.2 519.2,105.7 520.5,101.0 C521.8,96.3 523.0,92.8 524.0,89.0 C525.0,85.2 525.7,82.2 526.8,78.0 C527.9,73.8 530.0,66.3 530.6,64.0" fill="none" stroke="#d4586a" stroke-width="0.8" stroke-dasharray="2.4 2"/>
<line x1="462.4" y1="174.4" x2="542.0" y2="174.4" stroke="#c23b4b" stroke-width="0.9" />
<circle cx="462.4" cy="174.4" r="0.9" fill="#c23b4b"/>
<line x1="467.3" y1="55.4" x2="522.5" y2="55.4" stroke="#c23b4b" stroke-width="0.9" />
<circle cx="467.3" cy="55.4" r="0.9" fill="#c23b4b"/>
<text transform="translate(546.00 176.40) scale(0.1143 0.1250)" font-size="47.2" fill="#c23b4b" stroke="#c23b4b" stroke-width="0.96">0.024810</text>
<text transform="translate(526.30 57.40) scale(0.1143 0.1250)" font-size="47.2" fill="#c23b4b" stroke="#c23b4b" stroke-width="0.96">0.026705</text>
<line x1="399.3" y1="88.6" x2="419.6" y2="88.6" stroke="#3d5a80" stroke-width="0.7" />
<text transform="translate(423.90 89.80) scale(0.1086 0.1250)" font-size="46.4" fill="#3d5a80" stroke="#3d5a80" stroke-width="0.96">1.618 (0.026175)</text>
<line x1="416.9" y1="131.5" x2="456.5" y2="131.5" stroke="#3d5a80" stroke-width="0.7" />
<text transform="translate(461.50 132.80) scale(0.1069 0.1250)" font-size="46.4" fill="#3d5a80" stroke="#3d5a80" stroke-width="0.96">1.618 (0.025480)</text>
<text transform="translate(368.23 237.80) scale(0.1250 0.1250)" font-size="62.4" fill="#6ea2e6">(a)</text>
<text transform="translate(464.91 148.00) scale(0.1250 0.1250)" font-size="64.0" fill="#6ea2e6">(b)</text>
<text transform="translate(484.85 268.20) scale(0.1250 0.1250)" font-size="62.4" fill="#6ea2e6">(c)</text>
<text transform="translate(203.83 417.30) scale(0.1250 0.1250)" font-size="65.6" fill="#1f3a93" stroke="#1f3a93" stroke-width="0.96">(Y)</text>
<circle cx="327.4" cy="126" r="5.5" fill="none" stroke="#5aa565" stroke-width="0.6"/>
<text transform="translate(325.18 128.50) scale(0.1250 0.1250)" font-size="64.0" fill="#4a9a56">a</text>
<circle cx="533.1" cy="28.3" r="5.5" fill="none" stroke="#5aa565" stroke-width="0.6"/>
<text transform="translate(531.10 30.80) scale(0.1250 0.1250)" font-size="64.0" fill="#4a9a56">c</text>
<circle cx="489.1" cy="278.4" r="5.5" fill="none" stroke="#5aa565" stroke-width="0.6"/>
<text transform="translate(486.88 280.90) scale(0.1250 0.1250)" font-size="64.0" fill="#4a9a56">b</text>
<text transform="translate(44.30 55.20) scale(0.1179 0.1250)" font-size="46.4" font-weight="bold" fill="#bb3a4e">Российский универсальный коммерческий банк с государственным участием.</text>
<text transform="translate(44.30 60.40) scale(0.1177 0.1250)" font-size="46.4" font-weight="bold" fill="#bb3a4e">Один из крупнейших банков России.</text>
<text transform="translate(203.00 428.20) scale(0.1196 0.1250)" font-size="49.6" fill="#cdcdcd" stroke="#cdcdcd" stroke-width="0.96">0</text>
<text transform="translate(243.80 428.20) scale(0.1208 0.1250)" font-size="49.6" fill="#cdcdcd" stroke="#cdcdcd" stroke-width="0.96">0.146</text>
<text transform="translate(268.00 428.20) scale(0.1208 0.1250)" font-size="49.6" fill="#cdcdcd" stroke="#cdcdcd" stroke-width="0.96">0.236</text>
<text transform="translate(306.80 428.20) scale(0.1208 0.1250)" font-size="49.6" fill="#43a047" stroke="#43a047" stroke-width="0.96">0.382</text>
<text transform="translate(372.00 428.20) scale(0.1208 0.1250)" font-size="49.6" fill="#43a047" stroke="#43a047" stroke-width="0.96">0.618</text>
<text transform="translate(549.60 428.20) scale(0.1208 0.1250)" font-size="49.6" fill="#d4586a" stroke="#d4586a" stroke-width="0.96">1.272</text>
<text transform="translate(645.00 428.20) scale(0.1208 0.1250)" font-size="49.6" fill="#d4586a" stroke="#d4586a" stroke-width="0.96">1.618</text>
<circle cx="480.5" cy="424.4" r="5.3" fill="#fff" stroke="#8a3fb4" stroke-width="0.85"/>
<path d="M481.5,421.9 L478.6,425 L480.3,425 L479.4,427.1 L482.4,423.9 L480.7,423.9 Z" fill="#8a3fb4"/>
<circle cx="483.9" cy="421" r="1.7" fill="#fff"/><circle cx="483.9" cy="421" r="1.2" fill="#c8303f"/>
</g>
<text transform="translate(45.00 23.70) scale(0.1113 0.1250)" font-size="50.4" fill="#4f4f4f" stroke="#4f4f4f" stroke-width="0.96">Банк ВТБ, 8Ч, MOEX</text>
<text transform="translate(5.40 9.30) scale(0.1149 0.1250)" font-size="52.0" fill="#2a2a2a" stroke="#2a2a2a" stroke-width="0.96">South_Capital опубликовал(а) на TradingView.com, Фев 21, 2024 19:53 UTC+3</text>
<line x1="40.0" y1="13.0" x2="753.0" y2="13.0" stroke="#e4e4e8" stroke-width="0.8" />
<line x1="5.0" y1="431.0" x2="753.0" y2="431.0" stroke="#e9e9ec" stroke-width="0.8" />
<line x1="5.0" y1="542.3" x2="753.0" y2="542.3" stroke="#aeaeb2" stroke-width="0.8" />
<line x1="5.0" y1="555.8" x2="753.0" y2="555.8" stroke="#ececf0" stroke-width="0.8" />
<line x1="39.5" y1="13.0" x2="39.5" y2="555.8" stroke="#707278" stroke-width="0.8" />
<line x1="721.6" y1="13.0" x2="721.6" y2="555.8" stroke="#85858a" stroke-width="0.8" />
<text transform="translate(725.20 47.15) scale(0.1051 0.1250)" font-size="52.0" fill="#3c3c3c" stroke="#3c3c3c" stroke-width="0.64">0.026880</text>
<text transform="translate(725.20 66.55) scale(0.1051 0.1250)" font-size="52.0" fill="#3c3c3c" stroke="#3c3c3c" stroke-width="0.64">0.026560</text>
<text transform="translate(725.20 85.25) scale(0.1051 0.1250)" font-size="52.0" fill="#3c3c3c" stroke="#3c3c3c" stroke-width="0.64">0.026240</text>
<text transform="translate(725.20 105.65) scale(0.1051 0.1250)" font-size="52.0" fill="#3c3c3c" stroke="#3c3c3c" stroke-width="0.64">0.025920</text>
<text transform="translate(725.20 126.15) scale(0.1051 0.1250)" font-size="52.0" fill="#3c3c3c" stroke="#3c3c3c" stroke-width="0.64">0.025600</text>
<text transform="translate(725.20 146.45) scale(0.1051 0.1250)" font-size="52.0" fill="#3c3c3c" stroke="#3c3c3c" stroke-width="0.64">0.025280</text>
<text transform="translate(725.20 166.35) scale(0.1051 0.1250)" font-size="52.0" fill="#3c3c3c" stroke="#3c3c3c" stroke-width="0.64">0.024960</text>
<text transform="translate(725.20 187.65) scale(0.1051 0.1250)" font-size="52.0" fill="#3c3c3c" stroke="#3c3c3c" stroke-width="0.64">0.024640</text>
<text transform="translate(725.20 204.35) scale(0.1051 0.1250)" font-size="52.0" fill="#3c3c3c" stroke="#3c3c3c" stroke-width="0.64">0.024390</text>
<text transform="translate(725.20 221.05) scale(0.1051 0.1250)" font-size="52.0" fill="#3c3c3c" stroke="#3c3c3c" stroke-width="0.64">0.024140</text>
<text transform="translate(725.20 237.75) scale(0.1051 0.1250)" font-size="52.0" fill="#3c3c3c" stroke="#3c3c3c" stroke-width="0.64">0.023890</text>
<text transform="translate(725.20 254.35) scale(0.1051 0.1250)" font-size="52.0" fill="#3c3c3c" stroke="#3c3c3c" stroke-width="0.64">0.023640</text>
<text transform="translate(725.20 272.15) scale(0.1051 0.1250)" font-size="52.0" fill="#3c3c3c" stroke="#3c3c3c" stroke-width="0.64">0.023390</text>
<text transform="translate(725.20 288.25) scale(0.1051 0.1250)" font-size="52.0" fill="#3c3c3c" stroke="#3c3c3c" stroke-width="0.64">0.023150</text>
<text transform="translate(725.20 305.15) scale(0.1051 0.1250)" font-size="52.0" fill="#3c3c3c" stroke="#3c3c3c" stroke-width="0.64">0.022910</text>
<text transform="translate(725.20 322.25) scale(0.1051 0.1250)" font-size="52.0" fill="#3c3c3c" stroke="#3c3c3c" stroke-width="0.64">0.022670</text>
<text transform="translate(725.20 339.45) scale(0.1051 0.1250)" font-size="52.0" fill="#3c3c3c" stroke="#3c3c3c" stroke-width="0.64">0.022430</text>
<text transform="translate(725.20 357.25) scale(0.1051 0.1250)" font-size="52.0" fill="#3c3c3c" stroke="#3c3c3c" stroke-width="0.64">0.022190</text>
<text transform="translate(725.20 371.55) scale(0.1051 0.1250)" font-size="52.0" fill="#3c3c3c" stroke="#3c3c3c" stroke-width="0.64">0.021990</text>
<text transform="translate(725.20 386.55) scale(0.1051 0.1250)" font-size="52.0" fill="#3c3c3c" stroke="#3c3c3c" stroke-width="0.64">0.021790</text>
<text transform="translate(725.20 401.35) scale(0.1051 0.1250)" font-size="52.0" fill="#3c3c3c" stroke="#3c3c3c" stroke-width="0.64">0.021590</text>
<text transform="translate(725.20 416.45) scale(0.1051 0.1250)" font-size="52.0" fill="#3c3c3c" stroke="#3c3c3c" stroke-width="0.64">0.021390</text>
<text transform="translate(725.20 431.05) scale(0.1051 0.1250)" font-size="52.0" fill="#3c3c3c" stroke="#3c3c3c" stroke-width="0.64">0.021200</text>
<rect x="721.8" y="85.4" width="28.4" height="6.8" fill="#18a018" rx="0.6"/>
<text transform="translate(725.40 91.05) scale(0.1086 0.1250)" font-size="51.2" font-weight="bold" fill="#fff">0.026175</text>
<rect x="721.8" y="168.2" width="28.4" height="6.8" fill="#505050" rx="0.6"/>
<text transform="translate(725.40 173.85) scale(0.1086 0.1250)" font-size="51.2" font-weight="bold" fill="#fff">0.024850</text>
<rect x="721.8" y="210.8" width="28.4" height="6.8" fill="#f0141e" rx="0.6"/>
<text transform="translate(725.40 216.45) scale(0.1086 0.1250)" font-size="51.2" font-weight="bold" fill="#fff">0.024215</text>
<rect x="721.8" y="253.8" width="28.4" height="6.8" fill="#1f5fd0" rx="0.6"/>
<text transform="translate(725.40 259.45) scale(0.1086 0.1250)" font-size="51.2" font-weight="bold" fill="#fff">0.023575</text>
<rect x="721.8" y="288.8" width="28.4" height="6.8" fill="#1a3a9e" rx="0.6"/>
<text transform="translate(725.40 294.45) scale(0.1086 0.1250)" font-size="51.2" font-weight="bold" fill="#fff">0.023070</text>
<rect x="704.5" y="288.8" width="16.6" height="6.8" fill="#1a3a9e" rx="0.6"/>
<text transform="translate(706.30 294.30) scale(0.1066 0.1250)" font-size="44.8" font-weight="bold" fill="#fff">VTBR</text>
<rect x="723.8" y="16.3" width="26.8" height="12" rx="1.5" fill="#fff" stroke="#e6e6ea" stroke-width="0.7"/>
<text transform="translate(727.49 24.20) scale(0.1250 0.1250)" font-size="44.0" fill="#333" stroke="#333" stroke-width="0.96">RUB</text>
<text transform="translate(14.30 438.00) scale(0.1092 0.1250)" font-size="47.2" fill="#3c3c3c" stroke="#3c3c3c" stroke-width="0.96">7.500000</text>
<text transform="translate(14.30 453.80) scale(0.1092 0.1250)" font-size="47.2" fill="#3c3c3c" stroke="#3c3c3c" stroke-width="0.96">5.000000</text>
<text transform="translate(14.30 469.40) scale(0.1092 0.1250)" font-size="47.2" fill="#3c3c3c" stroke="#3c3c3c" stroke-width="0.96">2.500000</text>
<text transform="translate(14.30 485.00) scale(0.1092 0.1250)" font-size="47.2" fill="#3c3c3c" stroke="#3c3c3c" stroke-width="0.96">0.000000</text>
<text transform="translate(11.00 500.50) scale(0.1167 0.1250)" font-size="47.2" fill="#3c3c3c" stroke="#3c3c3c" stroke-width="0.96">-2.500000</text>
<text transform="translate(11.00 516.10) scale(0.1167 0.1250)" font-size="47.2" fill="#3c3c3c" stroke="#3c3c3c" stroke-width="0.96">-5.000000</text>
<text transform="translate(11.00 531.70) scale(0.1167 0.1250)" font-size="47.2" fill="#3c3c3c" stroke="#3c3c3c" stroke-width="0.96">-7.500000</text>
<rect x="40" y="467.8" width="1" height="15.1" fill="#72b776"/>
<rect x="41" y="467.5" width="2" height="15.4" fill="#72b776"/>
<rect x="43" y="470.2" width="2" height="12.6" fill="#72b776"/>
<rect x="45" y="475.5" width="2" height="7.4" fill="#72b776"/>
<rect x="47" y="481.1" width="2" height="1.8" fill="#72b776"/>
<rect x="49" y="482.9" width="2" height="3.1" fill="#ff979e"/>
<rect x="51" y="482.9" width="2" height="6.6" fill="#ff979e"/>
<rect x="53" y="482.9" width="2" height="10.1" fill="#ff979e"/>
<rect x="55" y="482.9" width="2" height="13.1" fill="#ff979e"/>
<rect x="57" y="482.9" width="2" height="16.1" fill="#ff979e"/>
<rect x="59" y="482.9" width="2" height="17.5" fill="#ff979e"/>
<rect x="61" y="482.9" width="2" height="18.9" fill="#ff979e"/>
<rect x="63" y="482.9" width="2" height="18.4" fill="#ff979e"/>
<rect x="65" y="482.9" width="2" height="17.6" fill="#ff979e"/>
<rect x="67" y="482.9" width="2" height="16.2" fill="#ff979e"/>
<rect x="69" y="482.9" width="2" height="14.8" fill="#ff979e"/>
<rect x="71" y="482.9" width="2" height="15.5" fill="#ff979e"/>
<rect x="73" y="482.9" width="2" height="16.2" fill="#ff979e"/>
<rect x="75" y="482.9" width="2" height="16.8" fill="#ff979e"/>
<rect x="77" y="482.9" width="2" height="17.3" fill="#ff979e"/>
<rect x="79" y="482.9" width="2" height="17.8" fill="#ff979e"/>
<rect x="81" y="482.9" width="2" height="16.3" fill="#ff979e"/>
<rect x="83" y="482.9" width="2" height="14.2" fill="#ff979e"/>
<rect x="85" y="482.9" width="2" height="11.7" fill="#ff979e"/>
<rect x="87" y="482.9" width="2" height="9.0" fill="#ff979e"/>
<rect x="89" y="482.9" width="2" height="6.7" fill="#ff979e"/>
<rect x="91" y="482.9" width="2" height="5.7" fill="#ff979e"/>
<rect x="93" y="482.9" width="2" height="4.6" fill="#ff979e"/>
<rect x="95" y="482.9" width="2" height="3.9" fill="#ff979e"/>
<rect x="97" y="482.9" width="2" height="3.5" fill="#ff979e"/>
<rect x="99" y="482.9" width="2" height="3.1" fill="#ff979e"/>
<rect x="101" y="482.9" width="2" height="3.4" fill="#ff979e"/>
<rect x="103" y="482.9" width="2" height="3.6" fill="#ff979e"/>
<rect x="105" y="482.9" width="2" height="3.9" fill="#ff979e"/>
<rect x="107" y="482.9" width="2" height="4.5" fill="#ff979e"/>
<rect x="109" y="482.9" width="2" height="5.2" fill="#ff979e"/>
<rect x="111" y="482.9" width="2" height="6.2" fill="#ff979e"/>
<rect x="113" y="482.9" width="2" height="8.6" fill="#ff979e"/>
<rect x="115" y="482.9" width="2" height="11.1" fill="#ff979e"/>
<rect x="117" y="482.9" width="2" height="13.5" fill="#ff979e"/>
<rect x="119" y="482.9" width="2" height="16.0" fill="#ff979e"/>
<rect x="121" y="482.9" width="2" height="16.2" fill="#ff979e"/>
<rect x="123" y="482.9" width="2" height="15.3" fill="#ff979e"/>
<rect x="125" y="482.9" width="2" height="14.6" fill="#ff979e"/>
<rect x="127" y="482.9" width="2" height="14.0" fill="#ff979e"/>
<rect x="129" y="482.9" width="2" height="13.5" fill="#ff979e"/>
<rect x="131" y="482.9" width="2" height="13.3" fill="#ff979e"/>
<rect x="133" y="482.9" width="2" height="13.1" fill="#ff979e"/>
<rect x="135" y="482.9" width="2" height="12.5" fill="#ff979e"/>
<rect x="137" y="482.9" width="2" height="11.9" fill="#ff979e"/>
<rect x="139" y="482.9" width="2" height="10.7" fill="#ff979e"/>
<rect x="141" y="482.9" width="2" height="9.4" fill="#ff979e"/>
<rect x="143" y="482.9" width="2" height="8.1" fill="#ff979e"/>
<rect x="145" y="482.9" width="2" height="1.9" fill="#ff979e"/>
<rect x="147" y="480.9" width="2" height="2.0" fill="#72b776"/>
<rect x="149" y="477.6" width="2" height="5.3" fill="#72b776"/>
<rect x="151" y="475.0" width="2" height="7.9" fill="#72b776"/>
<rect x="153" y="473.8" width="2" height="9.1" fill="#72b776"/>
<rect x="155" y="473.8" width="2" height="9.1" fill="#72b776"/>
<rect x="157" y="474.5" width="2" height="8.4" fill="#72b776"/>
<rect x="159" y="476.2" width="2" height="6.7" fill="#72b776"/>
<rect x="161" y="478.2" width="2" height="4.7" fill="#72b776"/>
<rect x="163" y="480.8" width="2" height="2.1" fill="#72b776"/>
<rect x="165" y="482.9" width="2" height="1.2" fill="#ff979e"/>
<rect x="167" y="482.9" width="2" height="4.6" fill="#ff979e"/>
<rect x="169" y="482.9" width="2" height="7.7" fill="#ff979e"/>
<rect x="171" y="482.9" width="2" height="9.5" fill="#ff979e"/>
<rect x="173" y="482.9" width="2" height="11.1" fill="#ff979e"/>
<rect x="175" y="482.9" width="2" height="12.2" fill="#ff979e"/>
<rect x="177" y="482.9" width="2" height="13.4" fill="#ff979e"/>
<rect x="179" y="482.9" width="2" height="14.1" fill="#ff979e"/>
<rect x="181" y="482.9" width="2" height="14.7" fill="#ff979e"/>
<rect x="183" y="482.9" width="2" height="15.4" fill="#ff979e"/>
<rect x="185" y="482.9" width="2" height="16.1" fill="#ff979e"/>
<rect x="187" y="482.9" width="2" height="17.7" fill="#ff979e"/>
<rect x="189" y="482.9" width="2" height="24.2" fill="#ff979e"/>
<rect x="191" y="482.9" width="2" height="29.5" fill="#ff979e"/>
<rect x="193" y="482.9" width="2" height="33.6" fill="#ff979e"/>
<rect x="195" y="482.9" width="2" height="36.3" fill="#ff979e"/>
<rect x="197" y="482.9" width="2" height="38.7" fill="#ff979e"/>
<rect x="199" y="482.9" width="2" height="40.5" fill="#ff979e"/>
<rect x="201" y="482.9" width="2" height="41.6" fill="#ff979e"/>
<rect x="203" y="482.9" width="2" height="41.8" fill="#ff979e"/>
<rect x="205" y="482.9" width="2" height="40.0" fill="#ff979e"/>
<rect x="207" y="482.9" width="2" height="35.6" fill="#ff979e"/>
<rect x="209" y="482.9" width="2" height="32.4" fill="#ff979e"/>
<rect x="211" y="482.9" width="2" height="30.3" fill="#ff979e"/>
<rect x="213" y="482.9" width="2" height="28.7" fill="#ff979e"/>
<rect x="215" y="482.9" width="2" height="28.0" fill="#ff979e"/>
<rect x="217" y="482.9" width="2" height="26.0" fill="#ff979e"/>
<rect x="219" y="482.9" width="2" height="23.1" fill="#ff979e"/>
<rect x="221" y="482.9" width="2" height="21.1" fill="#ff979e"/>
<rect x="223" y="482.9" width="2" height="17.9" fill="#ff979e"/>
<rect x="225" y="482.9" width="2" height="14.3" fill="#ff979e"/>
<rect x="227" y="482.9" width="2" height="9.8" fill="#ff979e"/>
<rect x="229" y="482.9" width="2" height="6.2" fill="#ff979e"/>
<rect x="231" y="482.9" width="2" height="3.5" fill="#ff979e"/>
<rect x="233" y="482.9" width="2" height="1.1" fill="#ff979e"/>
<rect x="235" y="480.9" width="2" height="2.0" fill="#72b776"/>
<rect x="237" y="475.3" width="2" height="7.6" fill="#72b776"/>
<rect x="239" y="469.0" width="2" height="13.9" fill="#72b776"/>
<rect x="241" y="463.9" width="2" height="19.0" fill="#72b776"/>
<rect x="243" y="461.9" width="2" height="21.0" fill="#72b776"/>
<rect x="245" y="461.9" width="2" height="21.0" fill="#72b776"/>
<rect x="247" y="463.4" width="2" height="19.5" fill="#72b776"/>
<rect x="249" y="464.9" width="2" height="18.0" fill="#72b776"/>
<rect x="251" y="465.6" width="2" height="17.3" fill="#72b776"/>
<rect x="253" y="466.3" width="2" height="16.6" fill="#72b776"/>
<rect x="255" y="468.3" width="2" height="14.6" fill="#72b776"/>
<rect x="257" y="471.9" width="2" height="11.0" fill="#72b776"/>
<rect x="259" y="475.2" width="2" height="7.7" fill="#72b776"/>
<rect x="261" y="478.0" width="2" height="4.9" fill="#72b776"/>
<rect x="263" y="479.4" width="2" height="3.5" fill="#72b776"/>
<rect x="265" y="480.0" width="2" height="2.9" fill="#72b776"/>
<rect x="267" y="480.3" width="2" height="2.6" fill="#72b776"/>
<rect x="269" y="480.4" width="2" height="2.5" fill="#72b776"/>
<rect x="271" y="480.3" width="2" height="2.6" fill="#72b776"/>
<rect x="273" y="479.8" width="2" height="3.1" fill="#72b776"/>
<rect x="275" y="479.9" width="2" height="3.0" fill="#72b776"/>
<rect x="277" y="481.7" width="2" height="1.2" fill="#72b776"/>
<rect x="279" y="482.9" width="2" height="1.4" fill="#ff979e"/>
<rect x="281" y="482.9" width="2" height="3.8" fill="#ff979e"/>
<rect x="283" y="482.9" width="2" height="6.1" fill="#ff979e"/>
<rect x="285" y="482.9" width="2" height="7.8" fill="#ff979e"/>
<rect x="287" y="482.9" width="2" height="8.5" fill="#ff979e"/>
<rect x="289" y="482.9" width="2" height="9.0" fill="#ff979e"/>
<rect x="291" y="482.9" width="2" height="9.0" fill="#ff979e"/>
<rect x="293" y="482.9" width="2" height="7.7" fill="#ff979e"/>
<rect x="295" y="482.9" width="2" height="6.1" fill="#ff979e"/>
<rect x="297" y="482.9" width="2" height="3.9" fill="#ff979e"/>
<rect x="299" y="482.9" width="2" height="1.6" fill="#ff979e"/>
<rect x="303" y="479.2" width="2" height="3.7" fill="#72b776"/>
<rect x="305" y="475.5" width="2" height="7.4" fill="#72b776"/>
<rect x="307" y="471.9" width="2" height="11.0" fill="#72b776"/>
<rect x="309" y="465.4" width="2" height="17.5" fill="#72b776"/>
<rect x="311" y="458.0" width="2" height="24.9" fill="#72b776"/>
<rect x="313" y="452.9" width="2" height="30.0" fill="#72b776"/>
<rect x="315" y="450.0" width="2" height="32.9" fill="#72b776"/>
<rect x="317" y="448.1" width="2" height="34.8" fill="#72b776"/>
<rect x="319" y="448.5" width="2" height="34.4" fill="#72b776"/>
<rect x="321" y="451.1" width="2" height="31.8" fill="#72b776"/>
<rect x="323" y="453.9" width="2" height="29.0" fill="#72b776"/>
<rect x="325" y="455.2" width="2" height="27.7" fill="#72b776"/>
<rect x="327" y="454.6" width="2" height="28.3" fill="#72b776"/>
<rect x="329" y="452.5" width="2" height="30.4" fill="#72b776"/>
<rect x="331" y="450.0" width="2" height="32.9" fill="#72b776"/>
<rect x="333" y="448.8" width="2" height="34.1" fill="#72b776"/>
<rect x="335" y="451.1" width="2" height="31.8" fill="#72b776"/>
<rect x="337" y="453.9" width="2" height="29.0" fill="#72b776"/>
<rect x="339" y="456.6" width="2" height="26.3" fill="#72b776"/>
<rect x="341" y="459.3" width="2" height="23.6" fill="#72b776"/>
<rect x="343" y="461.7" width="2" height="21.2" fill="#72b776"/>
<rect x="345" y="463.4" width="2" height="19.5" fill="#72b776"/>
<rect x="347" y="464.6" width="2" height="18.3" fill="#72b776"/>
<rect x="349" y="465.1" width="2" height="17.8" fill="#72b776"/>
<rect x="351" y="466.0" width="2" height="16.9" fill="#72b776"/>
<rect x="353" y="468.3" width="2" height="14.6" fill="#72b776"/>
<rect x="355" y="471.3" width="2" height="11.6" fill="#72b776"/>
<rect x="357" y="475.2" width="2" height="7.7" fill="#72b776"/>
<rect x="359" y="480.4" width="2" height="2.5" fill="#72b776"/>
<rect x="361" y="482.9" width="2" height="1.3" fill="#ff979e"/>
<rect x="363" y="482.9" width="2" height="2.0" fill="#ff979e"/>
<rect x="365" y="482.9" width="2" height="2.6" fill="#ff979e"/>
<rect x="367" y="482.9" width="2" height="3.2" fill="#ff979e"/>
<rect x="369" y="482.9" width="2" height="3.7" fill="#ff979e"/>
<rect x="371" y="482.9" width="2" height="4.3" fill="#ff979e"/>
<rect x="373" y="482.9" width="2" height="6.1" fill="#ff979e"/>
<rect x="375" y="482.9" width="2" height="8.6" fill="#ff979e"/>
<rect x="377" y="482.9" width="2" height="11.1" fill="#ff979e"/>
<rect x="379" y="482.9" width="2" height="12.1" fill="#ff979e"/>
<rect x="381" y="482.9" width="2" height="12.5" fill="#ff979e"/>
<rect x="383" y="482.9" width="2" height="12.4" fill="#ff979e"/>
<rect x="385" y="482.9" width="2" height="11.9" fill="#ff979e"/>
<rect x="387" y="482.9" width="2" height="10.9" fill="#ff979e"/>
<rect x="389" y="482.9" width="2" height="9.5" fill="#ff979e"/>
<rect x="391" y="482.9" width="2" height="7.9" fill="#ff979e"/>
<rect x="393" y="482.9" width="2" height="6.3" fill="#ff979e"/>
<rect x="395" y="482.9" width="2" height="4.6" fill="#ff979e"/>
<rect x="397" y="482.9" width="2" height="2.7" fill="#ff979e"/>
<rect x="399" y="482.9" width="2" height="1.4" fill="#ff979e"/>
<rect x="403" y="482.0" width="2" height="0.9" fill="#72b776"/>
<rect x="405" y="481.2" width="2" height="1.7" fill="#72b776"/>
<rect x="407" y="480.5" width="2" height="2.4" fill="#72b776"/>
<rect x="409" y="480.2" width="2" height="2.7" fill="#72b776"/>
<rect x="411" y="481.2" width="2" height="1.7" fill="#72b776"/>
<rect x="415" y="482.9" width="2" height="0.8" fill="#ff979e"/>
<rect x="417" y="482.9" width="2" height="1.1" fill="#ff979e"/>
<rect x="419" y="482.9" width="2" height="1.3" fill="#ff979e"/>
<rect x="421" y="482.9" width="2" height="1.0" fill="#ff979e"/>
<rect x="423" y="482.9" width="2" height="0.7" fill="#ff979e"/>
<rect x="427" y="481.1" width="2" height="1.8" fill="#72b776"/>
<rect x="429" y="479.2" width="2" height="3.7" fill="#72b776"/>
<rect x="431" y="478.9" width="2" height="4.0" fill="#72b776"/>
<rect x="433" y="481.7" width="2" height="1.2" fill="#72b776"/>
<rect x="435" y="482.9" width="2" height="1.1" fill="#ff979e"/>
<rect x="437" y="482.9" width="2" height="2.6" fill="#ff979e"/>
<rect x="439" y="482.9" width="2" height="2.7" fill="#ff979e"/>
<rect x="441" y="482.9" width="2" height="1.6" fill="#ff979e"/>
<rect x="443" y="482.9" width="2" height="1.3" fill="#ff979e"/>
<rect x="445" y="482.9" width="2" height="1.2" fill="#ff979e"/>
<rect x="447" y="482.9" width="2" height="1.1" fill="#ff979e"/>
<rect x="449" y="482.9" width="2" height="1.2" fill="#ff979e"/>
<rect x="451" y="482.9" width="2" height="1.3" fill="#ff979e"/>
<rect x="453" y="482.9" width="2" height="1.4" fill="#ff979e"/>
<rect x="455" y="482.9" width="2" height="1.3" fill="#ff979e"/>
<rect x="457" y="482.9" width="2" height="1.2" fill="#ff979e"/>
<rect x="459" y="482.9" width="2" height="1.1" fill="#ff979e"/>
<rect x="461" y="482.9" width="2" height="1.0" fill="#ff979e"/>
<rect x="463" y="482.9" width="2" height="0.9" fill="#ff979e"/>
<rect x="467" y="481.4" width="2" height="1.5" fill="#72b776"/>
<rect x="469" y="479.6" width="2" height="3.2" fill="#72b776"/>
<rect x="471" y="478.5" width="2" height="4.4" fill="#72b776"/>
<rect x="473" y="479.5" width="2" height="3.4" fill="#72b776"/>
<rect x="475" y="482.9" width="2" height="1.8" fill="#ff979e"/>
<rect x="477" y="482.9" width="2" height="8.0" fill="#ff979e"/>
<rect x="479" y="482.9" width="2" height="19.3" fill="#ff979e"/>
<rect x="40" y="467.50" width="1" height="0.55" fill="#2c7835" fill-opacity="0.8"/>
<rect x="40.25" y="467.5" width="0.75" height="15.4" fill="#2c7835"/>
<rect x="41" y="467.25" width="2" height="0.55" fill="#2c7835" fill-opacity="0.8"/>
<rect x="42.25" y="467.5" width="0.75" height="15.4" fill="#2c7835"/>
<rect x="43" y="470.00" width="2" height="0.55" fill="#2c7835" fill-opacity="0.8"/>
<rect x="44.25" y="470.2" width="0.75" height="12.6" fill="#2c7835"/>
<rect x="45" y="475.25" width="2" height="0.55" fill="#2c7835" fill-opacity="0.8"/>
<rect x="46.25" y="475.5" width="0.75" height="7.4" fill="#2c7835"/>
<rect x="47" y="480.87" width="2" height="0.55" fill="#2c7835" fill-opacity="0.8"/>
<rect x="48.25" y="481.1" width="0.75" height="1.8" fill="#2c7835"/>
<rect x="49" y="485.70" width="2" height="0.55" fill="#d4505e" fill-opacity="0.8"/>
<rect x="50.25" y="482.9" width="0.75" height="6.6" fill="#d4505e"/>
<rect x="51" y="489.20" width="2" height="0.55" fill="#d4505e" fill-opacity="0.8"/>
<rect x="52.25" y="482.9" width="0.75" height="10.1" fill="#d4505e"/>
<rect x="53" y="492.70" width="2" height="0.55" fill="#d4505e" fill-opacity="0.8"/>
<rect x="54.25" y="482.9" width="0.75" height="13.1" fill="#d4505e"/>
<rect x="55" y="495.70" width="2" height="0.55" fill="#d4505e" fill-opacity="0.8"/>
<rect x="56.25" y="482.9" width="0.75" height="16.1" fill="#d4505e"/>
<rect x="57" y="498.70" width="2" height="0.55" fill="#d4505e" fill-opacity="0.8"/>
<rect x="58.25" y="482.9" width="0.75" height="17.5" fill="#d4505e"/>
<rect x="59" y="500.10" width="2" height="0.55" fill="#d4505e" fill-opacity="0.8"/>
<rect x="60.25" y="482.9" width="0.75" height="18.9" fill="#d4505e"/>
<rect x="61" y="501.49" width="2" height="0.55" fill="#d4505e" fill-opacity="0.8"/>
<rect x="62.25" y="482.9" width="0.75" height="18.9" fill="#d4505e"/>
<rect x="63" y="501.01" width="2" height="0.55" fill="#d4505e" fill-opacity="0.8"/>
<rect x="64.25" y="482.9" width="0.75" height="18.4" fill="#d4505e"/>
<rect x="65" y="500.20" width="2" height="0.55" fill="#d4505e" fill-opacity="0.8"/>
<rect x="66.25" y="482.9" width="0.75" height="17.6" fill="#d4505e"/>
<rect x="67" y="498.80" width="2" height="0.55" fill="#d4505e" fill-opacity="0.8"/>
<rect x="68.25" y="482.9" width="0.75" height="16.2" fill="#d4505e"/>
<rect x="69" y="497.40" width="2" height="0.55" fill="#d4505e" fill-opacity="0.8"/>
<rect x="70.25" y="482.9" width="0.75" height="15.5" fill="#d4505e"/>
<rect x="71" y="498.12" width="2" height="0.55" fill="#d4505e" fill-opacity="0.8"/>
<rect x="72.25" y="482.9" width="0.75" height="16.2" fill="#d4505e"/>
<rect x="73" y="498.84" width="2" height="0.55" fill="#d4505e" fill-opacity="0.8"/>
<rect x="74.25" y="482.9" width="0.75" height="16.8" fill="#d4505e"/>
<rect x="75" y="499.44" width="2" height="0.55" fill="#d4505e" fill-opacity="0.8"/>
<rect x="76.25" y="482.9" width="0.75" height="17.3" fill="#d4505e"/>
<rect x="77" y="499.91" width="2" height="0.55" fill="#d4505e" fill-opacity="0.8"/>
<rect x="78.25" y="482.9" width="0.75" height="17.8" fill="#d4505e"/>
<rect x="79" y="500.38" width="2" height="0.55" fill="#d4505e" fill-opacity="0.8"/>
<rect x="80.25" y="482.9" width="0.75" height="17.8" fill="#d4505e"/>
<rect x="81" y="498.90" width="2" height="0.55" fill="#d4505e" fill-opacity="0.8"/>
<rect x="82.25" y="482.9" width="0.75" height="16.3" fill="#d4505e"/>
<rect x="83" y="496.77" width="2" height="0.55" fill="#d4505e" fill-opacity="0.8"/>
<rect x="84.25" y="482.9" width="0.75" height="14.2" fill="#d4505e"/>
<rect x="85" y="494.34" width="2" height="0.55" fill="#d4505e" fill-opacity="0.8"/>
<rect x="86.25" y="482.9" width="0.75" height="11.7" fill="#d4505e"/>
<rect x="87" y="491.63" width="2" height="0.55" fill="#d4505e" fill-opacity="0.8"/>
<rect x="88.25" y="482.9" width="0.75" height="9.0" fill="#d4505e"/>
<rect x="89" y="489.34" width="2" height="0.55" fill="#d4505e" fill-opacity="0.8"/>
<rect x="90.25" y="482.9" width="0.75" height="6.7" fill="#d4505e"/>
<rect x="91" y="488.28" width="2" height="0.55" fill="#d4505e" fill-opacity="0.8"/>
<rect x="92.25" y="482.9" width="0.75" height="5.7" fill="#d4505e"/>
<rect x="93" y="487.23" width="2" height="0.55" fill="#d4505e" fill-opacity="0.8"/>
<rect x="94.25" y="482.9" width="0.75" height="4.6" fill="#d4505e"/>
<rect x="95" y="486.50" width="2" height="0.55" fill="#d4505e" fill-opacity="0.8"/>
<rect x="96.25" y="482.9" width="0.75" height="3.9" fill="#d4505e"/>
<rect x="97" y="486.10" width="2" height="0.55" fill="#d4505e" fill-opacity="0.8"/>
<rect x="98.25" y="482.9" width="0.75" height="3.5" fill="#d4505e"/>
<rect x="99" y="485.70" width="2" height="0.55" fill="#d4505e" fill-opacity="0.8"/>
<rect x="100.25" y="482.9" width="0.75" height="3.4" fill="#d4505e"/>
<rect x="101" y="485.97" width="2" height="0.55" fill="#d4505e" fill-opacity="0.8"/>
<rect x="102.25" y="482.9" width="0.75" height="3.6" fill="#d4505e"/>
<rect x="103" y="486.23" width="2" height="0.55" fill="#d4505e" fill-opacity="0.8"/>
<rect x="104.25" y="482.9" width="0.75" height="3.9" fill="#d4505e"/>
<rect x="105" y="486.50" width="2" height="0.55" fill="#d4505e" fill-opacity="0.8"/>
<rect x="106.25" y="482.9" width="0.75" height="4.5" fill="#d4505e"/>
<rect x="107" y="487.14" width="2" height="0.55" fill="#d4505e" fill-opacity="0.8"/>
<rect x="108.25" y="482.9" width="0.75" height="5.2" fill="#d4505e"/>
<rect x="109" y="487.79" width="2" height="0.55" fill="#d4505e" fill-opacity="0.8"/>
<rect x="110.25" y="482.9" width="0.75" height="6.2" fill="#d4505e"/>
<rect x="111" y="488.79" width="2" height="0.55" fill="#d4505e" fill-opacity="0.8"/>
<rect x="112.25" y="482.9" width="0.75" height="8.6" fill="#d4505e"/>
<rect x="113" y="491.25" width="2" height="0.55" fill="#d4505e" fill-opacity="0.8"/>
<rect x="114.25" y="482.9" width="0.75" height="11.1" fill="#d4505e"/>
<rect x="115" y="493.70" width="2" height="0.55" fill="#d4505e" fill-opacity="0.8"/>
<rect x="116.25" y="482.9" width="0.75" height="13.5" fill="#d4505e"/>
<rect x="117" y="496.13" width="2" height="0.55" fill="#d4505e" fill-opacity="0.8"/>
<rect x="118.25" y="482.9" width="0.75" height="16.0" fill="#d4505e"/>
<rect x="119" y="498.55" width="2" height="0.55" fill="#d4505e" fill-opacity="0.8"/>
<rect x="120.25" y="482.9" width="0.75" height="16.2" fill="#d4505e"/>
<rect x="121" y="498.83" width="2" height="0.55" fill="#d4505e" fill-opacity="0.8"/>
<rect x="122.25" y="482.9" width="0.75" height="16.2" fill="#d4505e"/>
<rect x="123" y="497.94" width="2" height="0.55" fill="#d4505e" fill-opacity="0.8"/>
<rect x="124.25" y="482.9" width="0.75" height="15.3" fill="#d4505e"/>
<rect x="125" y="497.21" width="2" height="0.55" fill="#d4505e" fill-opacity="0.8"/>
<rect x="126.25" y="482.9" width="0.75" height="14.6" fill="#d4505e"/>
<rect x="127" y="496.62" width="2" height="0.55" fill="#d4505e" fill-opacity="0.8"/>
<rect x="128.25" y="482.9" width="0.75" height="14.0" fill="#d4505e"/>
<rect x="129" y="496.08" width="2" height="0.55" fill="#d4505e" fill-opacity="0.8"/>
<rect x="130.25" y="482.9" width="0.75" height="13.5" fill="#d4505e"/>
<rect x="131" y="495.89" width="2" height="0.55" fill="#d4505e" fill-opacity="0.8"/>
<rect x="132.25" y="482.9" width="0.75" height="13.3" fill="#d4505e"/>
<rect x="133" y="495.70" width="2" height="0.55" fill="#d4505e" fill-opacity="0.8"/>
<rect x="134.25" y="482.9" width="0.75" height="13.1" fill="#d4505e"/>
<rect x="135" y="495.14" width="2" height="0.55" fill="#d4505e" fill-opacity="0.8"/>
<rect x="136.25" y="482.9" width="0.75" height="12.5" fill="#d4505e"/>
<rect x="137" y="494.46" width="2" height="0.55" fill="#d4505e" fill-opacity="0.8"/>
<rect x="138.25" y="482.9" width="0.75" height="11.9" fill="#d4505e"/>
<rect x="139" y="493.29" width="2" height="0.55" fill="#d4505e" fill-opacity="0.8"/>
<rect x="140.25" y="482.9" width="0.75" height="10.7" fill="#d4505e"/>
<rect x="141" y="492.03" width="2" height="0.55" fill="#d4505e" fill-opacity="0.8"/>
<rect x="142.25" y="482.9" width="0.75" height="9.4" fill="#d4505e"/>
<rect x="143" y="490.70" width="2" height="0.55" fill="#d4505e" fill-opacity="0.8"/>
<rect x="144.25" y="482.9" width="0.75" height="8.1" fill="#d4505e"/>
<rect x="145" y="484.47" width="2" height="0.55" fill="#d4505e" fill-opacity="0.8"/>
<rect x="146.25" y="482.9" width="0.75" height="1.9" fill="#d4505e"/>
<rect x="147" y="480.65" width="2" height="0.55" fill="#2c7835" fill-opacity="0.8"/>
<rect x="148.25" y="477.6" width="0.75" height="5.3" fill="#2c7835"/>
<rect x="149" y="477.38" width="2" height="0.55" fill="#2c7835" fill-opacity="0.8"/>
<rect x="150.25" y="475.0" width="0.75" height="7.9" fill="#2c7835"/>
<rect x="151" y="474.75" width="2" height="0.55" fill="#2c7835" fill-opacity="0.8"/>
<rect x="152.25" y="473.8" width="0.75" height="9.1" fill="#2c7835"/>
<rect x="153" y="473.50" width="2" height="0.55" fill="#2c7835" fill-opacity="0.8"/>
<rect x="154.25" y="473.8" width="0.75" height="9.1" fill="#2c7835"/>
<rect x="155" y="473.58" width="2" height="0.55" fill="#2c7835" fill-opacity="0.8"/>
<rect x="156.25" y="473.8" width="0.75" height="9.1" fill="#2c7835"/>
<rect x="157" y="474.25" width="2" height="0.55" fill="#2c7835" fill-opacity="0.8"/>
<rect x="158.25" y="474.5" width="0.75" height="8.4" fill="#2c7835"/>
<rect x="159" y="475.92" width="2" height="0.55" fill="#2c7835" fill-opacity="0.8"/>
<rect x="160.25" y="476.2" width="0.75" height="6.7" fill="#2c7835"/>
<rect x="161" y="477.95" width="2" height="0.55" fill="#2c7835" fill-opacity="0.8"/>
<rect x="162.25" y="478.2" width="0.75" height="4.7" fill="#2c7835"/>
<rect x="163" y="480.51" width="2" height="0.55" fill="#2c7835" fill-opacity="0.8"/>
<rect x="164.25" y="480.8" width="0.75" height="2.1" fill="#2c7835"/>
<rect x="165" y="483.76" width="2" height="0.55" fill="#d4505e" fill-opacity="0.8"/>
<rect x="166.25" y="482.9" width="0.75" height="4.6" fill="#d4505e"/>
<rect x="167" y="487.23" width="2" height="0.55" fill="#d4505e" fill-opacity="0.8"/>
<rect x="168.25" y="482.9" width="0.75" height="7.7" fill="#d4505e"/>
<rect x="169" y="490.29" width="2" height="0.55" fill="#d4505e" fill-opacity="0.8"/>
<rect x="170.25" y="482.9" width="0.75" height="9.5" fill="#d4505e"/>
<rect x="171" y="492.14" width="2" height="0.55" fill="#d4505e" fill-opacity="0.8"/>
<rect x="172.25" y="482.9" width="0.75" height="11.1" fill="#d4505e"/>
<rect x="173" y="493.70" width="2" height="0.55" fill="#d4505e" fill-opacity="0.8"/>
<rect x="174.25" y="482.9" width="0.75" height="12.2" fill="#d4505e"/>
<rect x="175" y="494.84" width="2" height="0.55" fill="#d4505e" fill-opacity="0.8"/>
<rect x="176.25" y="482.9" width="0.75" height="13.4" fill="#d4505e"/>
<rect x="177" y="495.99" width="2" height="0.55" fill="#d4505e" fill-opacity="0.8"/>
<rect x="178.25" y="482.9" width="0.75" height="14.1" fill="#d4505e"/>
<rect x="179" y="496.67" width="2" height="0.55" fill="#d4505e" fill-opacity="0.8"/>
<rect x="180.25" y="482.9" width="0.75" height="14.7" fill="#d4505e"/>
<rect x="181" y="497.30" width="2" height="0.55" fill="#d4505e" fill-opacity="0.8"/>
<rect x="182.25" y="482.9" width="0.75" height="15.4" fill="#d4505e"/>
<rect x="183" y="498.00" width="2" height="0.55" fill="#d4505e" fill-opacity="0.8"/>
<rect x="184.25" y="482.9" width="0.75" height="16.1" fill="#d4505e"/>
<rect x="185" y="498.70" width="2" height="0.55" fill="#d4505e" fill-opacity="0.8"/>
<rect x="186.25" y="482.9" width="0.75" height="17.7" fill="#d4505e"/>
<rect x="187" y="500.30" width="2" height="0.55" fill="#d4505e" fill-opacity="0.8"/>
<rect x="188.25" y="482.9" width="0.75" height="24.2" fill="#d4505e"/>
<rect x="189" y="506.76" width="2" height="0.55" fill="#d4505e" fill-opacity="0.8"/>
<rect x="190.25" y="482.9" width="0.75" height="29.5" fill="#d4505e"/>
<rect x="191" y="512.15" width="2" height="0.55" fill="#d4505e" fill-opacity="0.8"/>
<rect x="192.25" y="482.9" width="0.75" height="33.6" fill="#d4505e"/>
<rect x="193" y="516.21" width="2" height="0.55" fill="#d4505e" fill-opacity="0.8"/>
<rect x="194.25" y="482.9" width="0.75" height="36.3" fill="#d4505e"/>
<rect x="195" y="518.94" width="2" height="0.55" fill="#d4505e" fill-opacity="0.8"/>
<rect x="196.25" y="482.9" width="0.75" height="38.7" fill="#d4505e"/>
<rect x="197" y="521.31" width="2" height="0.55" fill="#d4505e" fill-opacity="0.8"/>
<rect x="198.25" y="482.9" width="0.75" height="40.5" fill="#d4505e"/>
<rect x="199" y="523.07" width="2" height="0.55" fill="#d4505e" fill-opacity="0.8"/>
<rect x="200.25" y="482.9" width="0.75" height="41.6" fill="#d4505e"/>
<rect x="201" y="524.20" width="2" height="0.55" fill="#d4505e" fill-opacity="0.8"/>
<rect x="202.25" y="482.9" width="0.75" height="41.8" fill="#d4505e"/>
<rect x="203" y="524.35" width="2" height="0.55" fill="#d4505e" fill-opacity="0.8"/>
<rect x="204.25" y="482.9" width="0.75" height="41.8" fill="#d4505e"/>
<rect x="205" y="522.57" width="2" height="0.55" fill="#d4505e" fill-opacity="0.8"/>
<rect x="206.25" y="482.9" width="0.75" height="40.0" fill="#d4505e"/>
<rect x="207" y="518.20" width="2" height="0.55" fill="#d4505e" fill-opacity="0.8"/>
<rect x="208.25" y="482.9" width="0.75" height="35.6" fill="#d4505e"/>
<rect x="209" y="514.97" width="2" height="0.55" fill="#d4505e" fill-opacity="0.8"/>
<rect x="210.25" y="482.9" width="0.75" height="32.4" fill="#d4505e"/>
<rect x="211" y="512.86" width="2" height="0.55" fill="#d4505e" fill-opacity="0.8"/>
<rect x="212.25" y="482.9" width="0.75" height="30.3" fill="#d4505e"/>
<rect x="213" y="511.33" width="2" height="0.55" fill="#d4505e" fill-opacity="0.8"/>
<rect x="214.25" y="482.9" width="0.75" height="28.7" fill="#d4505e"/>
<rect x="215" y="510.62" width="2" height="0.55" fill="#d4505e" fill-opacity="0.8"/>
<rect x="216.25" y="482.9" width="0.75" height="28.0" fill="#d4505e"/>
<rect x="217" y="508.59" width="2" height="0.55" fill="#d4505e" fill-opacity="0.8"/>
<rect x="218.25" y="482.9" width="0.75" height="26.0" fill="#d4505e"/>
<rect x="219" y="505.70" width="2" height="0.55" fill="#d4505e" fill-opacity="0.8"/>
<rect x="220.25" y="482.9" width="0.75" height="23.1" fill="#d4505e"/>
<rect x="221" y="503.70" width="2" height="0.55" fill="#d4505e" fill-opacity="0.8"/>
<rect x="222.25" y="482.9" width="0.75" height="21.1" fill="#d4505e"/>
<rect x="223" y="500.52" width="2" height="0.55" fill="#d4505e" fill-opacity="0.8"/>
<rect x="224.25" y="482.9" width="0.75" height="17.9" fill="#d4505e"/>
<rect x="225" y="496.86" width="2" height="0.55" fill="#d4505e" fill-opacity="0.8"/>
<rect x="226.25" y="482.9" width="0.75" height="14.3" fill="#d4505e"/>
<rect x="227" y="492.40" width="2" height="0.55" fill="#d4505e" fill-opacity="0.8"/>
<rect x="228.25" y="482.9" width="0.75" height="9.8" fill="#d4505e"/>
<rect x="229" y="488.84" width="2" height="0.55" fill="#d4505e" fill-opacity="0.8"/>
<rect x="230.25" y="482.9" width="0.75" height="6.2" fill="#d4505e"/>
<rect x="231" y="486.05" width="2" height="0.55" fill="#d4505e" fill-opacity="0.8"/>
<rect x="232.25" y="482.9" width="0.75" height="3.5" fill="#d4505e"/>
<rect x="233" y="483.67" width="2" height="0.55" fill="#d4505e" fill-opacity="0.8"/>
<rect x="234.25" y="482.9" width="0.75" height="1.1" fill="#d4505e"/>
<rect x="235" y="480.66" width="2" height="0.55" fill="#2c7835" fill-opacity="0.8"/>
<rect x="236.25" y="475.3" width="0.75" height="7.6" fill="#2c7835"/>
<rect x="237" y="475.05" width="2" height="0.55" fill="#2c7835" fill-opacity="0.8"/>
<rect x="238.25" y="469.0" width="0.75" height="13.9" fill="#2c7835"/>
<rect x="239" y="468.73" width="2" height="0.55" fill="#2c7835" fill-opacity="0.8"/>
<rect x="240.25" y="463.9" width="0.75" height="19.0" fill="#2c7835"/>
<rect x="241" y="463.63" width="2" height="0.55" fill="#2c7835" fill-opacity="0.8"/>
<rect x="242.25" y="461.9" width="0.75" height="21.0" fill="#2c7835"/>
<rect x="243" y="461.60" width="2" height="0.55" fill="#2c7835" fill-opacity="0.8"/>
<rect x="244.25" y="461.9" width="0.75" height="21.0" fill="#2c7835"/>
<rect x="245" y="461.69" width="2" height="0.55" fill="#2c7835" fill-opacity="0.8"/>
<rect x="246.25" y="461.9" width="0.75" height="21.0" fill="#2c7835"/>
<rect x="247" y="463.18" width="2" height="0.55" fill="#2c7835" fill-opacity="0.8"/>
<rect x="248.25" y="463.4" width="0.75" height="19.5" fill="#2c7835"/>
<rect x="249" y="464.63" width="2" height="0.55" fill="#2c7835" fill-opacity="0.8"/>
<rect x="250.25" y="464.9" width="0.75" height="18.0" fill="#2c7835"/>
<rect x="251" y="465.35" width="2" height="0.55" fill="#2c7835" fill-opacity="0.8"/>
<rect x="252.25" y="465.6" width="0.75" height="17.3" fill="#2c7835"/>
<rect x="253" y="466.02" width="2" height="0.55" fill="#2c7835" fill-opacity="0.8"/>
<rect x="254.25" y="466.3" width="0.75" height="16.6" fill="#2c7835"/>
<rect x="255" y="468.06" width="2" height="0.55" fill="#2c7835" fill-opacity="0.8"/>
<rect x="256.25" y="468.3" width="0.75" height="14.6" fill="#2c7835"/>
<rect x="257" y="471.61" width="2" height="0.55" fill="#2c7835" fill-opacity="0.8"/>
<rect x="258.25" y="471.9" width="0.75" height="11.0" fill="#2c7835"/>
<rect x="259" y="474.96" width="2" height="0.55" fill="#2c7835" fill-opacity="0.8"/>
<rect x="260.25" y="475.2" width="0.75" height="7.7" fill="#2c7835"/>
<rect x="261" y="477.77" width="2" height="0.55" fill="#2c7835" fill-opacity="0.8"/>
<rect x="262.25" y="478.0" width="0.75" height="4.9" fill="#2c7835"/>
<rect x="263" y="479.11" width="2" height="0.55" fill="#2c7835" fill-opacity="0.8"/>
<rect x="264.25" y="479.4" width="0.75" height="3.5" fill="#2c7835"/>
<rect x="265" y="479.74" width="2" height="0.55" fill="#2c7835" fill-opacity="0.8"/>
<rect x="266.25" y="480.0" width="0.75" height="2.9" fill="#2c7835"/>
<rect x="267" y="480.07" width="2" height="0.55" fill="#2c7835" fill-opacity="0.8"/>
<rect x="268.25" y="480.3" width="0.75" height="2.6" fill="#2c7835"/>
<rect x="269" y="480.19" width="2" height="0.55" fill="#2c7835" fill-opacity="0.8"/>
<rect x="270.25" y="480.3" width="0.75" height="2.6" fill="#2c7835"/>
<rect x="271" y="480.03" width="2" height="0.55" fill="#2c7835" fill-opacity="0.8"/>
<rect x="272.25" y="479.8" width="0.75" height="3.1" fill="#2c7835"/>
<rect x="273" y="479.58" width="2" height="0.55" fill="#2c7835" fill-opacity="0.8"/>
<rect x="274.25" y="479.8" width="0.75" height="3.1" fill="#2c7835"/>
<rect x="275" y="479.62" width="2" height="0.55" fill="#2c7835" fill-opacity="0.8"/>
<rect x="276.25" y="479.9" width="0.75" height="3.0" fill="#2c7835"/>
<rect x="277" y="481.43" width="2" height="0.55" fill="#2c7835" fill-opacity="0.8"/>
<rect x="278.25" y="481.7" width="0.75" height="1.2" fill="#2c7835"/>
<rect x="279" y="483.96" width="2" height="0.55" fill="#d4505e" fill-opacity="0.8"/>
<rect x="280.25" y="482.9" width="0.75" height="3.8" fill="#d4505e"/>
<rect x="281" y="486.40" width="2" height="0.55" fill="#d4505e" fill-opacity="0.8"/>
<rect x="282.25" y="482.9" width="0.75" height="6.1" fill="#d4505e"/>
<rect x="283" y="488.66" width="2" height="0.55" fill="#d4505e" fill-opacity="0.8"/>
<rect x="284.25" y="482.9" width="0.75" height="7.8" fill="#d4505e"/>
<rect x="285" y="490.44" width="2" height="0.55" fill="#d4505e" fill-opacity="0.8"/>
<rect x="286.25" y="482.9" width="0.75" height="8.5" fill="#d4505e"/>
<rect x="287" y="491.15" width="2" height="0.55" fill="#d4505e" fill-opacity="0.8"/>
<rect x="288.25" y="482.9" width="0.75" height="9.0" fill="#d4505e"/>
<rect x="289" y="491.57" width="2" height="0.55" fill="#d4505e" fill-opacity="0.8"/>
<rect x="290.25" y="482.9" width="0.75" height="9.0" fill="#d4505e"/>
<rect x="291" y="491.57" width="2" height="0.55" fill="#d4505e" fill-opacity="0.8"/>
<rect x="292.25" y="482.9" width="0.75" height="9.0" fill="#d4505e"/>
<rect x="293" y="490.32" width="2" height="0.55" fill="#d4505e" fill-opacity="0.8"/>
<rect x="294.25" y="482.9" width="0.75" height="7.7" fill="#d4505e"/>
<rect x="295" y="488.66" width="2" height="0.55" fill="#d4505e" fill-opacity="0.8"/>
<rect x="296.25" y="482.9" width="0.75" height="6.1" fill="#d4505e"/>
<rect x="297" y="486.53" width="2" height="0.55" fill="#d4505e" fill-opacity="0.8"/>
<rect x="298.25" y="482.9" width="0.75" height="3.9" fill="#d4505e"/>
<rect x="299" y="484.20" width="2" height="0.55" fill="#d4505e" fill-opacity="0.8"/>
<rect x="300.25" y="482.9" width="0.75" height="1.6" fill="#d4505e"/>
<rect x="303" y="478.95" width="2" height="0.55" fill="#2c7835" fill-opacity="0.8"/>
<rect x="304.25" y="475.5" width="0.75" height="7.4" fill="#2c7835"/>
<rect x="305" y="475.25" width="2" height="0.55" fill="#2c7835" fill-opacity="0.8"/>
<rect x="306.25" y="471.9" width="0.75" height="11.0" fill="#2c7835"/>
<rect x="307" y="471.65" width="2" height="0.55" fill="#2c7835" fill-opacity="0.8"/>
<rect x="308.25" y="465.4" width="0.75" height="17.5" fill="#2c7835"/>
<rect x="309" y="465.15" width="2" height="0.55" fill="#2c7835" fill-opacity="0.8"/>
<rect x="310.25" y="458.0" width="0.75" height="24.9" fill="#2c7835"/>
<rect x="311" y="457.75" width="2" height="0.55" fill="#2c7835" fill-opacity="0.8"/>
<rect x="312.25" y="452.9" width="0.75" height="30.0" fill="#2c7835"/>
<rect x="313" y="452.65" width="2" height="0.55" fill="#2c7835" fill-opacity="0.8"/>
<rect x="314.25" y="450.0" width="0.75" height="32.9" fill="#2c7835"/>
<rect x="315" y="449.75" width="2" height="0.55" fill="#2c7835" fill-opacity="0.8"/>
<rect x="316.25" y="448.1" width="0.75" height="34.8" fill="#2c7835"/>
<rect x="317" y="447.85" width="2" height="0.55" fill="#2c7835" fill-opacity="0.8"/>
<rect x="318.25" y="448.1" width="0.75" height="34.8" fill="#2c7835"/>
<rect x="319" y="448.25" width="2" height="0.55" fill="#2c7835" fill-opacity="0.8"/>
<rect x="320.25" y="448.5" width="0.75" height="34.4" fill="#2c7835"/>
<rect x="321" y="450.85" width="2" height="0.55" fill="#2c7835" fill-opacity="0.8"/>
<rect x="322.25" y="451.1" width="0.75" height="31.8" fill="#2c7835"/>
<rect x="323" y="453.65" width="2" height="0.55" fill="#2c7835" fill-opacity="0.8"/>
<rect x="324.25" y="453.9" width="0.75" height="29.0" fill="#2c7835"/>
<rect x="325" y="454.95" width="2" height="0.55" fill="#2c7835" fill-opacity="0.8"/>
<rect x="326.25" y="454.6" width="0.75" height="28.3" fill="#2c7835"/>
<rect x="327" y="454.35" width="2" height="0.55" fill="#2c7835" fill-opacity="0.8"/>
<rect x="328.25" y="452.5" width="0.75" height="30.4" fill="#2c7835"/>
<rect x="329" y="452.25" width="2" height="0.55" fill="#2c7835" fill-opacity="0.8"/>
<rect x="330.25" y="450.0" width="0.75" height="32.9" fill="#2c7835"/>
<rect x="331" y="449.75" width="2" height="0.55" fill="#2c7835" fill-opacity="0.8"/>
<rect x="332.25" y="448.8" width="0.75" height="34.1" fill="#2c7835"/>
<rect x="333" y="448.55" width="2" height="0.55" fill="#2c7835" fill-opacity="0.8"/>
<rect x="334.25" y="448.8" width="0.75" height="34.1" fill="#2c7835"/>
<rect x="335" y="450.85" width="2" height="0.55" fill="#2c7835" fill-opacity="0.8"/>
<rect x="336.25" y="451.1" width="0.75" height="31.8" fill="#2c7835"/>
<rect x="337" y="453.65" width="2" height="0.55" fill="#2c7835" fill-opacity="0.8"/>
<rect x="338.25" y="453.9" width="0.75" height="29.0" fill="#2c7835"/>
<rect x="339" y="456.32" width="2" height="0.55" fill="#2c7835" fill-opacity="0.8"/>
<rect x="340.25" y="456.6" width="0.75" height="26.3" fill="#2c7835"/>
<rect x="341" y="459.09" width="2" height="0.55" fill="#2c7835" fill-opacity="0.8"/>
<rect x="342.25" y="459.3" width="0.75" height="23.6" fill="#2c7835"/>
<rect x="343" y="461.40" width="2" height="0.55" fill="#2c7835" fill-opacity="0.8"/>
<rect x="344.25" y="461.7" width="0.75" height="21.2" fill="#2c7835"/>
<rect x="345" y="463.15" width="2" height="0.55" fill="#2c7835" fill-opacity="0.8"/>
<rect x="346.25" y="463.4" width="0.75" height="19.5" fill="#2c7835"/>
<rect x="347" y="464.38" width="2" height="0.55" fill="#2c7835" fill-opacity="0.8"/>
<rect x="348.25" y="464.6" width="0.75" height="18.3" fill="#2c7835"/>
<rect x="349" y="464.80" width="2" height="0.55" fill="#2c7835" fill-opacity="0.8"/>
<rect x="350.25" y="465.1" width="0.75" height="17.8" fill="#2c7835"/>
<rect x="351" y="465.71" width="2" height="0.55" fill="#2c7835" fill-opacity="0.8"/>
<rect x="352.25" y="466.0" width="0.75" height="16.9" fill="#2c7835"/>
<rect x="353" y="468.01" width="2" height="0.55" fill="#2c7835" fill-opacity="0.8"/>
<rect x="354.25" y="468.3" width="0.75" height="14.6" fill="#2c7835"/>
<rect x="355" y="471.09" width="2" height="0.55" fill="#2c7835" fill-opacity="0.8"/>
<rect x="356.25" y="471.3" width="0.75" height="11.6" fill="#2c7835"/>
<rect x="357" y="474.99" width="2" height="0.55" fill="#2c7835" fill-opacity="0.8"/>
<rect x="358.25" y="475.2" width="0.75" height="7.7" fill="#2c7835"/>
<rect x="359" y="480.10" width="2" height="0.55" fill="#2c7835" fill-opacity="0.8"/>
<rect x="360.25" y="480.4" width="0.75" height="2.5" fill="#2c7835"/>
<rect x="361" y="483.90" width="2" height="0.55" fill="#d4505e" fill-opacity="0.8"/>
<rect x="362.25" y="482.9" width="0.75" height="2.0" fill="#d4505e"/>
<rect x="363" y="484.55" width="2" height="0.55" fill="#d4505e" fill-opacity="0.8"/>
<rect x="364.25" y="482.9" width="0.75" height="2.6" fill="#d4505e"/>
<rect x="365" y="485.20" width="2" height="0.55" fill="#d4505e" fill-opacity="0.8"/>
<rect x="366.25" y="482.9" width="0.75" height="3.2" fill="#d4505e"/>
<rect x="367" y="485.76" width="2" height="0.55" fill="#d4505e" fill-opacity="0.8"/>
<rect x="368.25" y="482.9" width="0.75" height="3.7" fill="#d4505e"/>
<rect x="369" y="486.32" width="2" height="0.55" fill="#d4505e" fill-opacity="0.8"/>
<rect x="370.25" y="482.9" width="0.75" height="4.3" fill="#d4505e"/>
<rect x="371" y="486.89" width="2" height="0.55" fill="#d4505e" fill-opacity="0.8"/>
<rect x="372.25" y="482.9" width="0.75" height="6.1" fill="#d4505e"/>
<rect x="373" y="488.66" width="2" height="0.55" fill="#d4505e" fill-opacity="0.8"/>
<rect x="374.25" y="482.9" width="0.75" height="8.6" fill="#d4505e"/>
<rect x="375" y="491.16" width="2" height="0.55" fill="#d4505e" fill-opacity="0.8"/>
<rect x="376.25" y="482.9" width="0.75" height="11.1" fill="#d4505e"/>
<rect x="377" y="493.70" width="2" height="0.55" fill="#d4505e" fill-opacity="0.8"/>
<rect x="378.25" y="482.9" width="0.75" height="12.1" fill="#d4505e"/>
<rect x="379" y="494.70" width="2" height="0.55" fill="#d4505e" fill-opacity="0.8"/>
<rect x="380.25" y="482.9" width="0.75" height="12.5" fill="#d4505e"/>
<rect x="381" y="495.13" width="2" height="0.55" fill="#d4505e" fill-opacity="0.8"/>
<rect x="382.25" y="482.9" width="0.75" height="12.5" fill="#d4505e"/>
<rect x="383" y="495.03" width="2" height="0.55" fill="#d4505e" fill-opacity="0.8"/>
<rect x="384.25" y="482.9" width="0.75" height="12.4" fill="#d4505e"/>
<rect x="385" y="494.46" width="2" height="0.55" fill="#d4505e" fill-opacity="0.8"/>
<rect x="386.25" y="482.9" width="0.75" height="11.9" fill="#d4505e"/>
<rect x="387" y="493.50" width="2" height="0.55" fill="#d4505e" fill-opacity="0.8"/>
<rect x="388.25" y="482.9" width="0.75" height="10.9" fill="#d4505e"/>
<rect x="389" y="492.06" width="2" height="0.55" fill="#d4505e" fill-opacity="0.8"/>
<rect x="390.25" y="482.9" width="0.75" height="9.5" fill="#d4505e"/>
<rect x="391" y="490.53" width="2" height="0.55" fill="#d4505e" fill-opacity="0.8"/>
<rect x="392.25" y="482.9" width="0.75" height="7.9" fill="#d4505e"/>
<rect x="393" y="488.91" width="2" height="0.55" fill="#d4505e" fill-opacity="0.8"/>
<rect x="394.25" y="482.9" width="0.75" height="6.3" fill="#d4505e"/>
<rect x="395" y="487.20" width="2" height="0.55" fill="#d4505e" fill-opacity="0.8"/>
<rect x="396.25" y="482.9" width="0.75" height="4.6" fill="#d4505e"/>
<rect x="397" y="485.28" width="2" height="0.55" fill="#d4505e" fill-opacity="0.8"/>
<rect x="398.25" y="482.9" width="0.75" height="2.7" fill="#d4505e"/>
<rect x="399" y="484.04" width="2" height="0.55" fill="#d4505e" fill-opacity="0.8"/>
<rect x="400.25" y="482.9" width="0.75" height="1.4" fill="#d4505e"/>
<rect x="403" y="481.75" width="2" height="0.55" fill="#2c7835" fill-opacity="0.8"/>
<rect x="404.25" y="481.2" width="0.75" height="1.7" fill="#2c7835"/>
<rect x="405" y="480.95" width="2" height="0.55" fill="#2c7835" fill-opacity="0.8"/>
<rect x="406.25" y="480.5" width="0.75" height="2.4" fill="#2c7835"/>
<rect x="407" y="480.24" width="2" height="0.55" fill="#2c7835" fill-opacity="0.8"/>
<rect x="408.25" y="480.2" width="0.75" height="2.7" fill="#2c7835"/>
<rect x="409" y="479.95" width="2" height="0.55" fill="#2c7835" fill-opacity="0.8"/>
<rect x="410.25" y="480.2" width="0.75" height="2.7" fill="#2c7835"/>
<rect x="411" y="480.95" width="2" height="0.55" fill="#2c7835" fill-opacity="0.8"/>
<rect x="412.25" y="481.2" width="0.75" height="1.7" fill="#2c7835"/>
<rect x="415" y="483.40" width="2" height="0.55" fill="#d4505e" fill-opacity="0.8"/>
<rect x="416.25" y="482.9" width="0.75" height="1.1" fill="#d4505e"/>
<rect x="417" y="483.65" width="2" height="0.55" fill="#d4505e" fill-opacity="0.8"/>
<rect x="418.25" y="482.9" width="0.75" height="1.3" fill="#d4505e"/>
<rect x="419" y="483.90" width="2" height="0.55" fill="#d4505e" fill-opacity="0.8"/>
<rect x="420.25" y="482.9" width="0.75" height="1.3" fill="#d4505e"/>
<rect x="421" y="483.60" width="2" height="0.55" fill="#d4505e" fill-opacity="0.8"/>
<rect x="422.25" y="482.9" width="0.75" height="1.0" fill="#d4505e"/>
<rect x="423" y="483.30" width="2" height="0.55" fill="#d4505e" fill-opacity="0.8"/>
<rect x="424.25" y="482.9" width="0.75" height="0.7" fill="#d4505e"/>
<rect x="427" y="480.83" width="2" height="0.55" fill="#2c7835" fill-opacity="0.8"/>
<rect x="428.25" y="479.2" width="0.75" height="3.7" fill="#2c7835"/>
<rect x="429" y="478.91" width="2" height="0.55" fill="#2c7835" fill-opacity="0.8"/>
<rect x="430.25" y="478.9" width="0.75" height="4.0" fill="#2c7835"/>
<rect x="431" y="478.62" width="2" height="0.55" fill="#2c7835" fill-opacity="0.8"/>
<rect x="432.25" y="478.9" width="0.75" height="4.0" fill="#2c7835"/>
<rect x="433" y="481.46" width="2" height="0.55" fill="#2c7835" fill-opacity="0.8"/>
<rect x="434.25" y="481.7" width="0.75" height="1.2" fill="#2c7835"/>
<rect x="435" y="483.70" width="2" height="0.55" fill="#d4505e" fill-opacity="0.8"/>
<rect x="436.25" y="482.9" width="0.75" height="2.6" fill="#d4505e"/>
<rect x="437" y="485.20" width="2" height="0.55" fill="#d4505e" fill-opacity="0.8"/>
<rect x="438.25" y="482.9" width="0.75" height="2.7" fill="#d4505e"/>
<rect x="439" y="485.25" width="2" height="0.55" fill="#d4505e" fill-opacity="0.8"/>
<rect x="440.25" y="482.9" width="0.75" height="2.7" fill="#d4505e"/>
<rect x="441" y="484.20" width="2" height="0.55" fill="#d4505e" fill-opacity="0.8"/>
<rect x="442.25" y="482.9" width="0.75" height="1.6" fill="#d4505e"/>
<rect x="443" y="483.86" width="2" height="0.55" fill="#d4505e" fill-opacity="0.8"/>
<rect x="444.25" y="482.9" width="0.75" height="1.3" fill="#d4505e"/>
<rect x="445" y="483.78" width="2" height="0.55" fill="#d4505e" fill-opacity="0.8"/>
<rect x="446.25" y="482.9" width="0.75" height="1.2" fill="#d4505e"/>
<rect x="447" y="483.70" width="2" height="0.55" fill="#d4505e" fill-opacity="0.8"/>
<rect x="448.25" y="482.9" width="0.75" height="1.2" fill="#d4505e"/>
<rect x="449" y="483.80" width="2" height="0.55" fill="#d4505e" fill-opacity="0.8"/>
<rect x="450.25" y="482.9" width="0.75" height="1.3" fill="#d4505e"/>
<rect x="451" y="483.90" width="2" height="0.55" fill="#d4505e" fill-opacity="0.8"/>
<rect x="452.25" y="482.9" width="0.75" height="1.4" fill="#d4505e"/>
<rect x="453" y="484.00" width="2" height="0.55" fill="#d4505e" fill-opacity="0.8"/>
<rect x="454.25" y="482.9" width="0.75" height="1.4" fill="#d4505e"/>
<rect x="455" y="483.90" width="2" height="0.55" fill="#d4505e" fill-opacity="0.8"/>
<rect x="456.25" y="482.9" width="0.75" height="1.3" fill="#d4505e"/>
<rect x="457" y="483.80" width="2" height="0.55" fill="#d4505e" fill-opacity="0.8"/>
<rect x="458.25" y="482.9" width="0.75" height="1.2" fill="#d4505e"/>
<rect x="459" y="483.70" width="2" height="0.55" fill="#d4505e" fill-opacity="0.8"/>
<rect x="460.25" y="482.9" width="0.75" height="1.1" fill="#d4505e"/>
<rect x="461" y="483.60" width="2" height="0.55" fill="#d4505e" fill-opacity="0.8"/>
<rect x="462.25" y="482.9" width="0.75" height="1.0" fill="#d4505e"/>
<rect x="463" y="483.50" width="2" height="0.55" fill="#d4505e" fill-opacity="0.8"/>
<rect x="464.25" y="482.9" width="0.75" height="0.9" fill="#d4505e"/>
<rect x="467" y="481.10" width="2" height="0.55" fill="#2c7835" fill-opacity="0.8"/>
<rect x="468.25" y="479.6" width="0.75" height="3.2" fill="#2c7835"/>
<rect x="469" y="479.40" width="2" height="0.55" fill="#2c7835" fill-opacity="0.8"/>
<rect x="470.25" y="478.5" width="0.75" height="4.4" fill="#2c7835"/>
<rect x="471" y="478.21" width="2" height="0.55" fill="#2c7835" fill-opacity="0.8"/>
<rect x="472.25" y="478.5" width="0.75" height="4.4" fill="#2c7835"/>
<rect x="473" y="479.25" width="2" height="0.55" fill="#2c7835" fill-opacity="0.8"/>
<rect x="474.25" y="479.5" width="0.75" height="3.4" fill="#2c7835"/>
<rect x="475" y="484.35" width="2" height="0.55" fill="#d4505e" fill-opacity="0.8"/>
<rect x="476.25" y="482.9" width="0.75" height="8.0" fill="#d4505e"/>
<rect x="477" y="490.62" width="2" height="0.55" fill="#d4505e" fill-opacity="0.8"/>
<rect x="478.25" y="482.9" width="0.75" height="19.3" fill="#d4505e"/>
<rect x="479" y="501.93" width="2" height="0.55" fill="#d4505e" fill-opacity="0.8"/>
<rect x="480.25" y="482.9" width="0.75" height="19.3" fill="#d4505e"/>
<text transform="translate(60.54 551.00) scale(0.1250 0.1250)" font-size="48.0" fill="#3c3c3c" stroke="#3c3c3c" stroke-width="0.96">Ноя</text>
<text transform="translate(105.16 551.00) scale(0.1250 0.1250)" font-size="48.0" fill="#3c3c3c" stroke="#3c3c3c" stroke-width="0.96">13</text>
<text transform="translate(177.79 551.00) scale(0.1250 0.1250)" font-size="48.0" fill="#3c3c3c" stroke="#3c3c3c" stroke-width="0.96">Дек</text>
<text transform="translate(237.36 551.00) scale(0.1250 0.1250)" font-size="48.0" fill="#3c3c3c" stroke="#3c3c3c" stroke-width="0.96">18</text>
<text transform="translate(287.03 551.00) scale(0.1250 0.1250)" font-size="48.0" fill="#3c3c3c" stroke="#3c3c3c" stroke-width="0.96">2024</text>
<text transform="translate(332.66 551.00) scale(0.1250 0.1250)" font-size="48.0" fill="#3c3c3c" stroke="#3c3c3c" stroke-width="0.96">15</text>
<text transform="translate(398.86 551.00) scale(0.1250 0.1250)" font-size="48.0" fill="#3c3c3c" stroke="#3c3c3c" stroke-width="0.96">Фев</text>
<text transform="translate(463.86 551.00) scale(0.1250 0.1250)" font-size="48.0" fill="#3c3c3c" stroke="#3c3c3c" stroke-width="0.96">19</text>
<text transform="translate(504.13 551.00) scale(0.1250 0.1250)" font-size="48.0" fill="#3c3c3c" stroke="#3c3c3c" stroke-width="0.96">Мар</text>
<text transform="translate(559.66 551.00) scale(0.1250 0.1250)" font-size="48.0" fill="#3c3c3c" stroke="#3c3c3c" stroke-width="0.96">18</text>
<text transform="translate(610.41 551.00) scale(0.1250 0.1250)" font-size="48.0" fill="#3c3c3c" stroke="#3c3c3c" stroke-width="0.96">Апр</text>
<text transform="translate(664.96 551.00) scale(0.1250 0.1250)" font-size="48.0" fill="#3c3c3c" stroke="#3c3c3c" stroke-width="0.96">15</text>
<circle cx="22" cy="549" r="4.3" fill="#f0f1f4"/>
<text transform="translate(20.57 550.80) scale(0.1250 0.1250)" font-size="40.0" fill="#555" stroke="#555" stroke-width="0.96">Z</text>
<circle cx="737" cy="548.8" r="4.5" fill="#f0f1f4"/>
<text transform="translate(735.27 550.70) scale(0.1250 0.1250)" font-size="41.6" fill="#555" stroke="#555" stroke-width="0.96">A</text>
<g fill="#1e1e1e"><path d="M5.2,562.2 H10 V566.8 H7.6 V564.3 H5.2 Z"/><circle cx="11.3" cy="563.3" r="1.05"/><path d="M12.5,562.2 H14.9 L12.9,566.8 H10.5 Z"/></g>
<text transform="translate(17.10 567.20) scale(0.1176 0.1250)" font-size="54.4" fill="#1e1e1e" stroke="#1e1e1e" stroke-width="0.96">TradingView</text>
</svg></body></html>
